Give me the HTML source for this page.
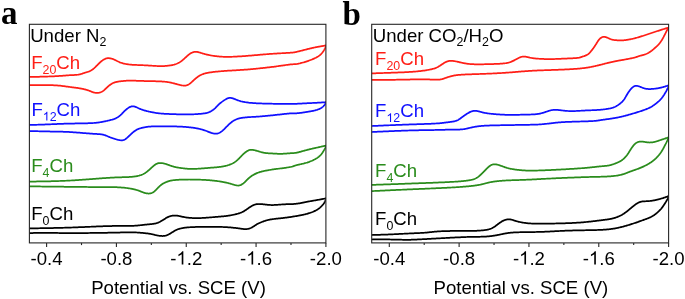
<!DOCTYPE html>
<html><head><meta charset="utf-8"><style>html,body{margin:0;padding:0;background:#fff;width:685px;height:299px;overflow:hidden}svg{display:block;will-change:transform}</style></head>
<body>
<svg width="685" height="299" viewBox="0 0 685 299">
<defs><clipPath id="ca"><rect x="29.40" y="24.30" width="296.50" height="218.60"/></clipPath>
<clipPath id="cb"><rect x="371.70" y="24.30" width="296.90" height="218.60"/></clipPath></defs>
<style>text{font-kerning:none}.t{font-family:"Liberation Sans",sans-serif;font-size:18.60px;fill:#000}.p{font-family:"Liberation Serif",serif;font-weight:bold;font-size:33px;fill:#000}.c{fill:none;stroke-width:1.75;stroke-linejoin:round;stroke-linecap:round}</style>
<rect width="685" height="299" fill="#fff"/>
<text x="1" y="24.3" class="p">a</text>
<text x="342.5" y="24.6" class="p">b</text>
<g clip-path="url(#ca)">
<path class="c" d="M29.00 77.00L29.93 76.98L30.85 76.96L31.78 76.94L32.70 76.91L33.62 76.89L34.55 76.87L35.47 76.85L36.39 76.83L37.31 76.80L38.22 76.78L39.14 76.76L40.05 76.73L40.96 76.71L41.87 76.69L42.77 76.66L43.68 76.64L44.58 76.61L45.47 76.59L46.36 76.56L47.25 76.53L48.14 76.50L49.02 76.48L49.89 76.44L50.77 76.41L51.63 76.38L52.49 76.34L53.35 76.31L54.19 76.27L55.04 76.23L55.87 76.19L56.70 76.14L57.52 76.09L58.34 76.04L59.14 75.99L59.94 75.93L60.73 75.88L61.52 75.82L62.29 75.76L63.07 75.69L63.83 75.63L64.59 75.57L65.34 75.51L66.09 75.45L66.83 75.40L67.57 75.35L68.31 75.30L69.04 75.25L69.76 75.21L70.49 75.18L71.21 75.15L71.92 75.12L72.64 75.09L73.34 75.06L74.04 75.03L74.74 74.99L75.42 74.94L76.10 74.89L76.77 74.83L77.43 74.75L78.08 74.66L78.72 74.55L79.35 74.43L79.96 74.29L80.56 74.13L81.15 73.97L81.73 73.79L82.29 73.62L82.83 73.44L83.36 73.26L83.87 73.08L84.36 72.91L84.83 72.76L85.28 72.61L85.71 72.48L86.13 72.36L86.54 72.24L86.93 72.12L87.33 72.01L87.72 71.89L88.11 71.76L88.50 71.63L88.90 71.48L89.31 71.32L89.71 71.15L90.12 70.96L90.53 70.77L90.93 70.55L91.33 70.33L91.72 70.09L92.10 69.83L92.48 69.57L92.85 69.29L93.22 69.00L93.58 68.69L93.94 68.38L94.30 68.06L94.65 67.73L95.01 67.39L95.37 67.05L95.72 66.70L96.08 66.34L96.44 65.99L96.79 65.63L97.15 65.27L97.50 64.91L97.86 64.55L98.21 64.19L98.56 63.84L98.91 63.50L99.26 63.15L99.61 62.82L99.96 62.49L100.31 62.16L100.67 61.84L101.04 61.53L101.41 61.23L101.79 60.93L102.17 60.65L102.57 60.37L102.96 60.10L103.36 59.85L103.76 59.61L104.15 59.39L104.53 59.18L104.91 58.99L105.28 58.82L105.64 58.67L106.00 58.54L106.35 58.43L106.71 58.34L107.09 58.27L107.47 58.22L107.88 58.20L108.32 58.19L108.77 58.21L109.23 58.24L109.71 58.29L110.18 58.36L110.65 58.44L111.11 58.53L111.56 58.64L111.98 58.75L112.39 58.87L112.78 59.01L113.16 59.15L113.54 59.31L113.92 59.48L114.31 59.66L114.71 59.86L115.14 60.07L115.59 60.30L116.06 60.53L116.56 60.78L117.07 61.04L117.61 61.30L118.16 61.56L118.73 61.81L119.31 62.07L119.91 62.32L120.53 62.56L121.15 62.78L121.79 63.00L122.43 63.19L123.09 63.38L123.75 63.55L124.42 63.71L125.10 63.85L125.78 63.99L126.47 64.11L127.17 64.22L127.87 64.33L128.57 64.42L129.28 64.50L129.98 64.58L130.69 64.65L131.40 64.71L132.12 64.76L132.83 64.81L133.54 64.85L134.26 64.89L134.98 64.92L135.69 64.95L136.41 64.98L137.13 65.00L137.85 65.03L138.57 65.05L139.29 65.08L140.01 65.10L140.73 65.13L141.45 65.16L142.17 65.19L142.89 65.22L143.62 65.25L144.34 65.28L145.06 65.32L145.79 65.36L146.51 65.40L147.23 65.44L147.96 65.48L148.69 65.52L149.41 65.56L150.14 65.61L150.87 65.66L151.60 65.70L152.33 65.75L153.06 65.80L153.78 65.84L154.51 65.89L155.24 65.93L155.96 65.97L156.69 66.00L157.41 66.03L158.13 66.06L158.84 66.08L159.56 66.09L160.26 66.10L160.97 66.10L161.67 66.10L162.37 66.09L163.07 66.07L163.76 66.04L164.45 66.01L165.14 65.97L165.82 65.92L166.50 65.87L167.17 65.81L167.84 65.74L168.51 65.66L169.17 65.58L169.83 65.49L170.49 65.39L171.14 65.28L171.78 65.16L172.42 65.03L173.05 64.89L173.67 64.74L174.29 64.58L174.89 64.40L175.48 64.21L176.06 64.01L176.63 63.79L177.19 63.55L177.73 63.30L178.27 63.04L178.79 62.75L179.31 62.45L179.82 62.14L180.33 61.81L180.83 61.46L181.33 61.10L181.83 60.72L182.33 60.32L182.83 59.91L183.33 59.48L183.83 59.04L184.34 58.59L184.84 58.14L185.33 57.68L185.83 57.23L186.32 56.78L186.80 56.35L187.27 55.92L187.74 55.51L188.20 55.13L188.65 54.76L189.08 54.43L189.51 54.11L189.93 53.83L190.34 53.56L190.75 53.32L191.15 53.09L191.56 52.88L191.96 52.69L192.36 52.52L192.76 52.36L193.17 52.21L193.59 52.08L194.01 51.98L194.44 51.89L194.89 51.83L195.35 51.80L195.82 51.79L196.31 51.81L196.82 51.87L197.34 51.95L197.88 52.06L198.42 52.19L198.98 52.33L199.55 52.49L200.13 52.66L200.71 52.84L201.30 53.02L201.89 53.21L202.48 53.39L203.07 53.56L203.67 53.74L204.27 53.90L204.87 54.07L205.47 54.23L206.08 54.39L206.70 54.54L207.32 54.69L207.96 54.83L208.60 54.97L209.25 55.11L209.92 55.24L210.60 55.37L211.29 55.50L211.99 55.62L212.70 55.74L213.42 55.85L214.15 55.95L214.89 56.06L215.64 56.15L216.39 56.24L217.16 56.33L217.93 56.41L218.71 56.48L219.50 56.55L220.29 56.61L221.09 56.66L221.90 56.71L222.71 56.75L223.54 56.78L224.37 56.81L225.22 56.83L226.08 56.84L226.96 56.85L227.85 56.85L228.76 56.84L229.69 56.83L230.64 56.81L231.61 56.78L232.61 56.75L233.62 56.71L234.67 56.67L235.73 56.61L236.83 56.56L237.95 56.49L239.09 56.42L240.26 56.35L241.44 56.27L242.64 56.19L243.84 56.10L245.06 56.01L246.28 55.91L247.51 55.82L248.74 55.72L249.96 55.62L251.18 55.52L252.39 55.42L253.59 55.32L254.77 55.22L255.94 55.12L257.09 55.02L258.22 54.92L259.32 54.83L260.40 54.74L261.44 54.65L262.45 54.56L263.43 54.48L264.38 54.40L265.30 54.32L266.20 54.25L267.08 54.18L267.94 54.11L268.80 54.05L269.64 53.99L270.48 53.92L271.32 53.86L272.17 53.81L273.02 53.75L273.87 53.69L274.75 53.64L275.64 53.58L276.55 53.53L277.48 53.47L278.44 53.42L279.42 53.36L280.41 53.31L281.40 53.25L282.40 53.20L283.39 53.14L284.37 53.09L285.34 53.03L286.28 52.98L287.20 52.93L288.08 52.88L288.93 52.82L289.73 52.77L290.49 52.72L291.18 52.67L291.82 52.62L292.39 52.57L292.90 52.53L293.37 52.48L293.80 52.42L294.21 52.36L294.61 52.29L295.02 52.21L295.46 52.12L295.93 52.02L296.44 51.90L297.01 51.76L297.62 51.61L298.27 51.45L298.95 51.28L299.66 51.11L300.40 50.92L301.16 50.73L301.93 50.53L302.72 50.33L303.51 50.13L304.30 49.93L305.09 49.73L305.87 49.53L306.64 49.34L307.40 49.15L308.14 48.97L308.88 48.79L309.61 48.62L310.33 48.45L311.04 48.28L311.75 48.12L312.45 47.97L313.15 47.81L313.85 47.66L314.55 47.51L315.24 47.37L315.94 47.23L316.64 47.09L317.35 46.96L318.05 46.83L318.76 46.70L319.47 46.57L320.18 46.45L320.89 46.33L321.60 46.21L322.32 46.09L323.03 45.97L323.75 45.85L324.47 45.73L325.18 45.62L325.90 45.50" stroke="#ff1e16"/>
<path class="c" d="M29.00 85.20L29.91 85.19L30.83 85.18L31.74 85.17L32.66 85.16L33.57 85.15L34.48 85.14L35.39 85.13L36.30 85.13L37.21 85.12L38.12 85.11L39.02 85.11L39.92 85.10L40.82 85.10L41.72 85.10L42.61 85.10L43.50 85.10L44.39 85.10L45.27 85.10L46.15 85.11L47.03 85.11L47.90 85.12L48.77 85.13L49.64 85.15L50.50 85.16L51.35 85.18L52.20 85.21L53.05 85.24L53.89 85.27L54.72 85.31L55.55 85.35L56.37 85.40L57.19 85.46L58.00 85.52L58.81 85.58L59.60 85.66L60.39 85.74L61.18 85.82L61.96 85.91L62.73 86.01L63.49 86.10L64.24 86.20L64.99 86.30L65.73 86.41L66.47 86.51L67.19 86.61L67.91 86.71L68.62 86.81L69.33 86.91L70.02 87.00L70.71 87.09L71.39 87.18L72.06 87.26L72.74 87.35L73.40 87.43L74.07 87.51L74.74 87.59L75.40 87.68L76.07 87.77L76.74 87.86L77.42 87.96L78.10 88.06L78.79 88.17L79.49 88.28L80.20 88.41L80.91 88.54L81.62 88.67L82.33 88.82L83.03 88.97L83.73 89.12L84.41 89.28L85.09 89.45L85.74 89.62L86.38 89.80L86.99 89.98L87.58 90.16L88.14 90.35L88.68 90.54L89.18 90.73L89.67 90.93L90.14 91.12L90.59 91.31L91.04 91.49L91.48 91.67L91.91 91.84L92.35 92.01L92.79 92.17L93.24 92.31L93.70 92.44L94.16 92.56L94.63 92.67L95.11 92.75L95.59 92.82L96.08 92.87L96.58 92.90L97.09 92.90L97.60 92.88L98.12 92.83L98.64 92.76L99.16 92.67L99.68 92.54L100.20 92.39L100.71 92.21L101.22 92.01L101.72 91.78L102.21 91.51L102.68 91.22L103.15 90.90L103.61 90.56L104.06 90.20L104.50 89.82L104.94 89.42L105.38 89.01L105.82 88.59L106.26 88.17L106.70 87.74L107.15 87.32L107.60 86.90L108.06 86.49L108.53 86.08L109.01 85.69L109.50 85.30L109.99 84.93L110.50 84.57L111.01 84.23L111.53 83.90L112.06 83.60L112.60 83.31L113.15 83.04L113.71 82.80L114.27 82.58L114.84 82.38L115.43 82.20L116.02 82.04L116.62 81.90L117.22 81.77L117.84 81.65L118.46 81.55L119.10 81.46L119.74 81.37L120.39 81.29L121.04 81.22L121.71 81.15L122.38 81.08L123.06 81.01L123.74 80.95L124.42 80.89L125.11 80.84L125.80 80.79L126.49 80.74L127.17 80.70L127.85 80.67L128.53 80.64L129.20 80.62L129.86 80.60L130.51 80.60L131.16 80.60L131.80 80.60L132.45 80.61L133.09 80.63L133.75 80.65L134.41 80.68L135.09 80.70L135.79 80.73L136.51 80.76L137.26 80.79L138.03 80.83L138.84 80.86L139.68 80.89L140.57 80.92L141.49 80.94L142.45 80.97L143.43 80.99L144.45 81.02L145.48 81.04L146.54 81.06L147.60 81.08L148.68 81.10L149.76 81.12L150.84 81.14L151.92 81.16L152.99 81.19L154.04 81.21L155.08 81.24L156.10 81.26L157.09 81.29L158.05 81.32L158.98 81.36L159.87 81.39L160.72 81.43L161.53 81.48L162.30 81.52L163.04 81.57L163.75 81.63L164.43 81.69L165.09 81.75L165.73 81.82L166.35 81.89L166.96 81.97L167.55 82.06L168.15 82.15L168.74 82.25L169.33 82.36L169.92 82.47L170.51 82.60L171.11 82.72L171.71 82.86L172.32 83.00L172.93 83.14L173.55 83.30L174.17 83.45L174.80 83.62L175.43 83.78L176.08 83.96L176.73 84.13L177.38 84.32L178.05 84.50L178.71 84.68L179.38 84.85L180.04 85.01L180.70 85.16L181.36 85.30L182.01 85.41L182.64 85.50L183.27 85.57L183.88 85.61L184.47 85.61L185.04 85.58L185.59 85.52L186.13 85.41L186.65 85.28L187.15 85.10L187.65 84.90L188.13 84.67L188.61 84.41L189.08 84.12L189.55 83.80L190.02 83.46L190.49 83.09L190.96 82.71L191.43 82.30L191.91 81.88L192.38 81.45L192.86 81.01L193.34 80.57L193.82 80.12L194.30 79.68L194.79 79.24L195.27 78.80L195.76 78.38L196.26 77.97L196.75 77.58L197.25 77.20L197.75 76.84L198.26 76.50L198.76 76.17L199.28 75.85L199.80 75.55L200.32 75.27L200.85 75.00L201.39 74.75L201.93 74.51L202.48 74.29L203.04 74.08L203.60 73.89L204.17 73.70L204.76 73.53L205.35 73.37L205.96 73.22L206.57 73.08L207.20 72.95L207.84 72.82L208.49 72.70L209.16 72.59L209.84 72.48L210.54 72.37L211.25 72.27L211.97 72.17L212.70 72.08L213.43 71.99L214.17 71.90L214.92 71.81L215.67 71.73L216.41 71.66L217.16 71.58L217.90 71.51L218.63 71.44L219.36 71.37L220.08 71.31L220.78 71.25L221.48 71.19L222.17 71.14L222.85 71.08L223.53 71.03L224.22 70.98L224.90 70.93L225.59 70.88L226.29 70.83L226.99 70.79L227.71 70.74L228.45 70.69L229.20 70.65L229.97 70.60L230.77 70.55L231.58 70.51L232.42 70.46L233.27 70.41L234.14 70.36L235.02 70.31L235.92 70.26L236.83 70.20L237.75 70.15L238.67 70.09L239.61 70.03L240.55 69.98L241.50 69.91L242.45 69.85L243.40 69.79L244.35 69.72L245.30 69.65L246.24 69.58L247.19 69.51L248.12 69.43L249.06 69.36L249.98 69.28L250.91 69.20L251.83 69.11L252.74 69.03L253.65 68.95L254.55 68.86L255.45 68.77L256.35 68.68L257.23 68.59L258.12 68.50L259.00 68.41L259.87 68.32L260.74 68.23L261.60 68.14L262.45 68.05L263.30 67.96L264.15 67.87L264.99 67.78L265.84 67.68L266.68 67.59L267.53 67.49L268.38 67.40L269.23 67.30L270.09 67.20L270.95 67.09L271.83 66.98L272.71 66.87L273.61 66.76L274.51 66.64L275.44 66.51L276.37 66.39L277.33 66.25L278.30 66.12L279.28 65.98L280.26 65.83L281.25 65.69L282.24 65.55L283.22 65.41L284.18 65.27L285.13 65.13L286.06 65.00L286.96 64.88L287.83 64.76L288.67 64.66L289.46 64.56L290.21 64.47L290.91 64.40L291.56 64.34L292.14 64.30L292.67 64.27L293.15 64.25L293.59 64.24L294.01 64.23L294.41 64.22L294.82 64.20L295.24 64.18L295.68 64.14L296.17 64.08L296.70 64.00L297.28 63.90L297.89 63.78L298.54 63.64L299.22 63.48L299.93 63.32L300.66 63.13L301.41 62.94L302.18 62.73L302.96 62.51L303.75 62.29L304.54 62.05L305.33 61.81L306.11 61.56L306.89 61.31L307.66 61.06L308.42 60.80L309.17 60.54L309.91 60.27L310.64 60.00L311.35 59.73L312.05 59.45L312.73 59.17L313.39 58.89L314.04 58.60L314.66 58.31L315.27 58.02L315.85 57.73L316.41 57.43L316.95 57.13L317.47 56.83L317.97 56.52L318.44 56.21L318.90 55.89L319.34 55.56L319.76 55.23L320.17 54.88L320.57 54.52L320.95 54.15L321.32 53.77L321.67 53.38L322.02 52.98L322.35 52.57L322.66 52.16L322.97 51.75L323.25 51.33L323.53 50.92L323.79 50.52L324.03 50.12L324.26 49.73L324.47 49.35L324.66 48.98L324.84 48.62L325.00 48.27L325.15 47.94L325.29 47.61L325.40 47.29L325.51 46.97L325.60 46.67L325.68 46.37L325.76 46.08L325.83 45.79L325.90 45.50" stroke="#ff1e16"/>
<path class="c" d="M29.00 125.00L30.05 124.97L31.09 124.94L32.14 124.91L33.18 124.87L34.22 124.84L35.26 124.81L36.30 124.78L37.33 124.75L38.36 124.71L39.38 124.68L40.40 124.65L41.41 124.61L42.42 124.58L43.42 124.55L44.42 124.51L45.40 124.48L46.38 124.44L47.35 124.40L48.31 124.37L49.26 124.33L50.21 124.29L51.14 124.25L52.06 124.21L52.98 124.17L53.89 124.14L54.80 124.10L55.71 124.06L56.63 124.02L57.54 123.98L58.46 123.94L59.39 123.90L60.33 123.87L61.28 123.83L62.24 123.79L63.22 123.76L64.21 123.73L65.22 123.70L66.26 123.67L67.32 123.64L68.40 123.61L69.50 123.59L70.64 123.57L71.80 123.55L72.97 123.53L74.16 123.51L75.37 123.49L76.58 123.47L77.80 123.46L79.02 123.44L80.24 123.42L81.46 123.40L82.66 123.38L83.86 123.35L85.04 123.33L86.20 123.30L87.34 123.27L88.46 123.24L89.54 123.20L90.60 123.16L91.62 123.11L92.60 123.06L93.54 123.00L94.43 122.94L95.27 122.88L96.07 122.81L96.82 122.73L97.53 122.64L98.21 122.56L98.87 122.46L99.50 122.36L100.11 122.26L100.71 122.15L101.31 122.04L101.91 121.92L102.52 121.80L103.14 121.68L103.77 121.55L104.43 121.41L105.11 121.28L105.81 121.13L106.52 120.99L107.25 120.84L107.99 120.68L108.73 120.51L109.47 120.34L110.20 120.16L110.94 119.97L111.66 119.77L112.37 119.57L113.06 119.35L113.73 119.12L114.38 118.88L115.01 118.63L115.60 118.37L116.17 118.10L116.71 117.81L117.24 117.52L117.74 117.21L118.22 116.90L118.69 116.57L119.14 116.23L119.58 115.88L120.01 115.53L120.43 115.16L120.83 114.78L121.24 114.40L121.63 114.01L122.03 113.61L122.41 113.21L122.80 112.81L123.19 112.41L123.58 112.00L123.97 111.61L124.36 111.21L124.75 110.83L125.16 110.45L125.56 110.08L125.98 109.72L126.40 109.37L126.82 109.03L127.24 108.71L127.67 108.40L128.09 108.11L128.52 107.83L128.94 107.57L129.36 107.33L129.78 107.11L130.19 106.90L130.61 106.73L131.02 106.57L131.44 106.45L131.86 106.35L132.28 106.29L132.72 106.27L133.16 106.28L133.62 106.33L134.08 106.42L134.56 106.55L135.05 106.70L135.54 106.88L136.04 107.08L136.54 107.30L137.04 107.53L137.54 107.76L138.05 107.99L138.54 108.23L139.04 108.45L139.52 108.67L140.01 108.88L140.50 109.08L141.00 109.28L141.50 109.47L142.01 109.65L142.54 109.83L143.08 110.01L143.64 110.19L144.23 110.36L144.84 110.54L145.47 110.71L146.13 110.89L146.81 111.06L147.51 111.23L148.22 111.40L148.94 111.57L149.67 111.73L150.41 111.89L151.14 112.04L151.88 112.19L152.61 112.34L153.34 112.47L154.06 112.60L154.76 112.73L155.44 112.84L156.11 112.95L156.77 113.04L157.42 113.13L158.06 113.22L158.71 113.30L159.35 113.37L160.01 113.44L160.67 113.50L161.35 113.56L162.05 113.61L162.77 113.66L163.52 113.71L164.29 113.76L165.11 113.81L165.96 113.85L166.84 113.90L167.76 113.94L168.70 113.98L169.67 114.02L170.66 114.06L171.67 114.10L172.69 114.13L173.72 114.17L174.77 114.20L175.81 114.23L176.86 114.26L177.90 114.29L178.94 114.31L179.97 114.33L180.99 114.35L181.99 114.37L182.97 114.38L183.93 114.39L184.86 114.40L185.77 114.40L186.65 114.41L187.50 114.40L188.33 114.40L189.13 114.39L189.92 114.38L190.69 114.37L191.44 114.35L192.18 114.33L192.90 114.31L193.62 114.28L194.32 114.25L195.02 114.22L195.72 114.18L196.41 114.14L197.10 114.09L197.79 114.05L198.48 113.99L199.17 113.94L199.84 113.88L200.51 113.82L201.16 113.76L201.80 113.70L202.42 113.63L203.01 113.56L203.59 113.49L204.13 113.42L204.65 113.35L205.14 113.28L205.59 113.20L206.02 113.13L206.42 113.05L206.81 112.96L207.18 112.86L207.55 112.76L207.91 112.64L208.28 112.51L208.65 112.36L209.03 112.20L209.41 112.03L209.80 111.85L210.19 111.65L210.58 111.44L210.97 111.23L211.36 111.01L211.74 110.78L212.11 110.54L212.48 110.30L212.85 110.05L213.21 109.79L213.56 109.52L213.92 109.24L214.27 108.95L214.61 108.65L214.96 108.34L215.30 108.01L215.64 107.68L215.98 107.33L216.32 106.97L216.66 106.62L217.00 106.26L217.33 105.90L217.67 105.54L218.01 105.19L218.35 104.85L218.69 104.51L219.04 104.19L219.38 103.88L219.73 103.57L220.08 103.28L220.43 102.99L220.78 102.70L221.14 102.43L221.49 102.15L221.86 101.89L222.22 101.62L222.59 101.36L222.96 101.11L223.33 100.85L223.70 100.60L224.07 100.36L224.45 100.12L224.82 99.88L225.19 99.64L225.56 99.41L225.93 99.19L226.31 98.97L226.68 98.77L227.06 98.58L227.44 98.42L227.83 98.27L228.23 98.15L228.63 98.05L229.04 97.98L229.45 97.94L229.86 97.92L230.27 97.92L230.69 97.94L231.09 97.98L231.49 98.04L231.88 98.12L232.26 98.21L232.63 98.31L233.00 98.42L233.37 98.55L233.74 98.69L234.13 98.84L234.53 99.01L234.94 99.18L235.38 99.36L235.84 99.54L236.32 99.74L236.82 99.93L237.35 100.14L237.90 100.34L238.48 100.54L239.08 100.74L239.71 100.94L240.36 101.13L241.04 101.32L241.75 101.49L242.48 101.66L243.24 101.82L244.02 101.97L244.82 102.11L245.63 102.24L246.45 102.36L247.28 102.47L248.11 102.58L248.94 102.68L249.77 102.76L250.58 102.85L251.39 102.92L252.17 102.99L252.94 103.05L253.67 103.11L254.38 103.16L255.06 103.20L255.70 103.24L256.32 103.28L256.91 103.31L257.48 103.34L258.03 103.37L258.58 103.39L259.13 103.41L259.69 103.43L260.25 103.45L260.83 103.47L261.43 103.48L262.06 103.50L262.72 103.52L263.42 103.54L264.14 103.56L264.89 103.58L265.67 103.60L266.47 103.62L267.30 103.64L268.15 103.66L269.01 103.68L269.90 103.70L270.81 103.72L271.73 103.73L272.67 103.75L273.62 103.76L274.59 103.78L275.56 103.79L276.54 103.80L277.53 103.80L278.52 103.81L279.52 103.81L280.51 103.82L281.49 103.82L282.47 103.82L283.43 103.81L284.38 103.81L285.30 103.81L286.20 103.81L287.07 103.80L287.91 103.80L288.71 103.80L289.47 103.80L290.19 103.80L290.86 103.80L291.49 103.80L292.06 103.80L292.57 103.80L293.04 103.81L293.47 103.81L293.88 103.82L294.27 103.82L294.67 103.82L295.08 103.82L295.51 103.81L295.98 103.80L296.50 103.78L297.06 103.76L297.66 103.74L298.30 103.71L298.97 103.68L299.66 103.64L300.38 103.61L301.12 103.57L301.87 103.52L302.64 103.48L303.41 103.44L304.18 103.40L304.95 103.36L305.71 103.32L306.47 103.28L307.21 103.24L307.94 103.20L308.66 103.17L309.37 103.13L310.08 103.10L310.78 103.06L311.47 103.03L312.16 103.00L312.84 102.96L313.52 102.93L314.20 102.90L314.88 102.86L315.56 102.83L316.24 102.79L316.92 102.76L317.61 102.72L318.29 102.68L318.98 102.64L319.67 102.60L320.36 102.55L321.05 102.51L321.74 102.47L322.43 102.42L323.12 102.38L323.82 102.33L324.51 102.29L325.21 102.25L325.90 102.20" stroke="#1010ff"/>
<path class="c" d="M29.00 131.00L30.06 131.03L31.11 131.06L32.17 131.09L33.22 131.12L34.27 131.14L35.32 131.17L36.36 131.20L37.40 131.23L38.44 131.25L39.47 131.28L40.50 131.31L41.53 131.33L42.54 131.35L43.55 131.38L44.56 131.40L45.55 131.42L46.54 131.44L47.52 131.46L48.49 131.48L49.45 131.49L50.40 131.51L51.35 131.52L52.28 131.53L53.21 131.54L54.14 131.56L55.06 131.57L55.98 131.58L56.91 131.60L57.84 131.61L58.77 131.63L59.71 131.65L60.67 131.67L61.63 131.70L62.60 131.72L63.59 131.76L64.60 131.79L65.63 131.84L66.68 131.88L67.75 131.93L68.84 131.99L69.96 132.06L71.11 132.12L72.27 132.20L73.45 132.28L74.65 132.36L75.86 132.45L77.07 132.54L78.29 132.63L79.51 132.72L80.73 132.82L81.94 132.91L83.15 133.01L84.34 133.11L85.52 133.20L86.69 133.29L87.83 133.38L88.94 133.47L90.03 133.55L91.09 133.63L92.11 133.71L93.10 133.78L94.04 133.84L94.95 133.90L95.80 133.95L96.61 133.99L97.39 134.04L98.12 134.08L98.82 134.13L99.50 134.17L100.14 134.23L100.77 134.29L101.37 134.37L101.96 134.45L102.54 134.55L103.11 134.67L103.68 134.81L104.24 134.97L104.81 135.15L105.37 135.35L105.93 135.56L106.48 135.78L107.02 136.01L107.56 136.24L108.08 136.47L108.59 136.70L109.08 136.91L109.55 137.12L110.01 137.30L110.44 137.47L110.86 137.62L111.26 137.76L111.65 137.89L112.03 138.01L112.41 138.12L112.79 138.24L113.16 138.36L113.55 138.48L113.94 138.61L114.34 138.74L114.74 138.88L115.14 139.01L115.55 139.14L115.96 139.27L116.36 139.40L116.77 139.52L117.17 139.63L117.56 139.73L117.96 139.83L118.36 139.92L118.76 140.00L119.16 140.07L119.56 140.14L119.97 140.20L120.38 140.25L120.79 140.29L121.20 140.32L121.62 140.33L122.03 140.32L122.45 140.29L122.85 140.23L123.26 140.14L123.65 140.02L124.04 139.87L124.42 139.69L124.80 139.48L125.18 139.25L125.55 139.00L125.91 138.73L126.27 138.45L126.64 138.15L127.00 137.85L127.35 137.54L127.71 137.23L128.07 136.91L128.42 136.59L128.77 136.26L129.12 135.93L129.47 135.60L129.82 135.27L130.17 134.94L130.51 134.61L130.85 134.28L131.19 133.96L131.54 133.63L131.88 133.31L132.23 133.00L132.58 132.69L132.94 132.38L133.30 132.09L133.66 131.79L134.03 131.50L134.41 131.23L134.78 130.96L135.16 130.70L135.54 130.45L135.92 130.21L136.29 129.99L136.66 129.78L137.02 129.58L137.38 129.40L137.74 129.23L138.11 129.07L138.48 128.92L138.86 128.78L139.26 128.64L139.68 128.50L140.12 128.36L140.60 128.22L141.09 128.08L141.62 127.94L142.16 127.80L142.74 127.66L143.34 127.52L143.97 127.39L144.62 127.27L145.29 127.15L145.99 127.03L146.71 126.93L147.46 126.83L148.23 126.74L149.03 126.66L149.84 126.59L150.68 126.53L151.53 126.48L152.41 126.43L153.30 126.39L154.21 126.36L155.13 126.33L156.07 126.31L157.02 126.30L157.99 126.28L158.97 126.28L159.95 126.28L160.95 126.28L161.96 126.28L162.97 126.28L163.99 126.29L165.01 126.30L166.04 126.31L167.08 126.32L168.11 126.33L169.15 126.35L170.19 126.36L171.22 126.38L172.25 126.40L173.28 126.42L174.31 126.44L175.33 126.47L176.34 126.49L177.34 126.53L178.34 126.56L179.32 126.60L180.29 126.64L181.25 126.68L182.20 126.73L183.13 126.78L184.04 126.84L184.94 126.90L185.82 126.96L186.68 127.03L187.52 127.10L188.35 127.18L189.16 127.26L189.96 127.34L190.74 127.43L191.51 127.53L192.26 127.63L193.00 127.73L193.73 127.84L194.45 127.95L195.15 128.07L195.85 128.19L196.54 128.31L197.22 128.44L197.89 128.58L198.56 128.72L199.21 128.86L199.87 129.01L200.52 129.17L201.17 129.34L201.82 129.51L202.47 129.70L203.13 129.89L203.78 130.10L204.44 130.31L205.11 130.54L205.78 130.78L206.46 131.04L207.15 131.30L207.85 131.57L208.55 131.85L209.25 132.12L209.95 132.38L210.65 132.63L211.35 132.87L212.05 133.08L212.73 133.28L213.42 133.44L214.09 133.56L214.75 133.65L215.39 133.70L216.03 133.70L216.65 133.64L217.25 133.54L217.84 133.40L218.41 133.21L218.97 132.99L219.52 132.73L220.06 132.44L220.59 132.12L221.10 131.77L221.61 131.40L222.11 131.01L222.60 130.60L223.09 130.17L223.57 129.74L224.04 129.29L224.51 128.84L224.97 128.37L225.43 127.91L225.89 127.44L226.35 126.96L226.81 126.49L227.26 126.03L227.72 125.56L228.18 125.10L228.64 124.65L229.11 124.21L229.58 123.79L230.05 123.37L230.53 122.96L231.01 122.57L231.49 122.19L231.98 121.82L232.47 121.47L232.97 121.13L233.47 120.81L233.98 120.51L234.49 120.22L235.00 119.94L235.52 119.69L236.05 119.45L236.59 119.22L237.13 119.02L237.70 118.82L238.28 118.64L238.88 118.47L239.49 118.32L240.13 118.17L240.80 118.04L241.49 117.91L242.21 117.80L242.96 117.69L243.73 117.60L244.53 117.51L245.34 117.42L246.17 117.35L247.01 117.28L247.85 117.21L248.70 117.15L249.54 117.10L250.37 117.05L251.19 117.00L251.99 116.96L252.77 116.92L253.53 116.88L254.26 116.84L254.95 116.80L255.61 116.77L256.23 116.73L256.83 116.69L257.41 116.66L257.97 116.62L258.53 116.58L259.08 116.54L259.64 116.50L260.21 116.45L260.79 116.40L261.39 116.35L262.02 116.30L262.69 116.24L263.38 116.18L264.11 116.11L264.87 116.04L265.65 115.97L266.46 115.89L267.29 115.81L268.15 115.72L269.02 115.64L269.92 115.55L270.83 115.46L271.76 115.36L272.71 115.26L273.67 115.16L274.64 115.06L275.62 114.95L276.61 114.84L277.61 114.73L278.61 114.62L279.61 114.51L280.61 114.40L281.60 114.28L282.58 114.17L283.54 114.07L284.49 113.96L285.42 113.86L286.32 113.77L287.19 113.68L288.03 113.60L288.83 113.52L289.59 113.46L290.31 113.40L290.98 113.36L291.60 113.32L292.17 113.30L292.67 113.29L293.14 113.29L293.57 113.29L293.98 113.30L294.38 113.31L294.78 113.31L295.20 113.32L295.65 113.31L296.13 113.29L296.66 113.27L297.23 113.22L297.83 113.17L298.48 113.11L299.15 113.04L299.85 112.96L300.58 112.87L301.32 112.77L302.09 112.67L302.86 112.56L303.64 112.45L304.43 112.34L305.22 112.22L306.01 112.10L306.79 111.98L307.57 111.85L308.33 111.73L309.09 111.60L309.83 111.47L310.57 111.34L311.29 111.20L312.00 111.07L312.69 110.92L313.36 110.78L314.02 110.63L314.66 110.48L315.28 110.32L315.87 110.16L316.45 110.00L317.00 109.83L317.53 109.65L318.04 109.47L318.53 109.28L319.01 109.09L319.47 108.88L319.91 108.67L320.34 108.44L320.76 108.21L321.16 107.96L321.56 107.70L321.94 107.43L322.31 107.16L322.66 106.88L323.00 106.59L323.32 106.30L323.62 106.00L323.91 105.71L324.17 105.42L324.42 105.13L324.64 104.84L324.84 104.56L325.02 104.28L325.19 104.01L325.33 103.74L325.46 103.48L325.57 103.21L325.66 102.96L325.75 102.70L325.82 102.45L325.90 102.20" stroke="#1010ff"/>
<path class="c" d="M29.00 181.60L30.34 181.58L31.68 181.57L33.02 181.55L34.36 181.53L35.70 181.51L37.04 181.49L38.38 181.47L39.71 181.45L41.04 181.43L42.38 181.41L43.71 181.39L45.03 181.37L46.36 181.34L47.68 181.31L49.00 181.29L50.32 181.26L51.63 181.23L52.95 181.19L54.25 181.16L55.56 181.12L56.85 181.09L58.15 181.04L59.44 181.00L60.73 180.96L62.01 180.91L63.28 180.86L64.56 180.81L65.82 180.75L67.08 180.69L68.34 180.63L69.59 180.57L70.83 180.50L72.06 180.43L73.29 180.36L74.52 180.29L75.74 180.21L76.95 180.13L78.15 180.05L79.34 179.97L80.53 179.88L81.72 179.80L82.89 179.71L84.06 179.63L85.22 179.54L86.37 179.45L87.51 179.36L88.65 179.27L89.78 179.19L90.90 179.10L92.01 179.01L93.11 178.93L94.21 178.84L95.29 178.76L96.37 178.67L97.44 178.59L98.49 178.51L99.54 178.43L100.58 178.36L101.62 178.28L102.64 178.21L103.65 178.14L104.65 178.08L105.64 178.01L106.62 177.95L107.59 177.89L108.55 177.83L109.50 177.78L110.44 177.72L111.36 177.67L112.28 177.62L113.18 177.58L114.07 177.54L114.95 177.49L115.82 177.46L116.68 177.42L117.52 177.39L118.35 177.36L119.17 177.33L119.97 177.30L120.76 177.28L121.54 177.26L122.31 177.24L123.06 177.22L123.81 177.20L124.54 177.18L125.27 177.16L125.98 177.14L126.69 177.11L127.39 177.09L128.09 177.06L128.78 177.03L129.46 176.99L130.14 176.95L130.82 176.90L131.49 176.85L132.16 176.79L132.82 176.72L133.49 176.64L134.15 176.56L134.80 176.47L135.45 176.37L136.09 176.27L136.72 176.15L137.35 176.03L137.96 175.89L138.56 175.75L139.16 175.60L139.73 175.44L140.30 175.27L140.85 175.09L141.38 174.90L141.90 174.69L142.41 174.48L142.90 174.26L143.39 174.02L143.86 173.77L144.33 173.51L144.78 173.24L145.24 172.95L145.69 172.64L146.14 172.33L146.59 172.00L147.04 171.65L147.49 171.29L147.94 170.91L148.40 170.52L148.85 170.13L149.31 169.73L149.76 169.32L150.21 168.91L150.65 168.51L151.09 168.10L151.52 167.71L151.95 167.32L152.37 166.94L152.78 166.58L153.18 166.23L153.57 165.90L153.95 165.59L154.33 165.29L154.69 165.02L155.06 164.76L155.42 164.52L155.77 164.29L156.13 164.08L156.49 163.90L156.85 163.72L157.21 163.57L157.57 163.43L157.95 163.32L158.33 163.22L158.71 163.13L159.11 163.07L159.52 163.03L159.94 163.00L160.37 163.00L160.82 163.01L161.28 163.04L161.75 163.09L162.24 163.16L162.74 163.25L163.24 163.35L163.76 163.46L164.28 163.59L164.80 163.73L165.33 163.87L165.86 164.03L166.40 164.20L166.93 164.38L167.46 164.56L167.99 164.74L168.52 164.93L169.06 165.13L169.60 165.32L170.14 165.51L170.68 165.71L171.24 165.90L171.80 166.09L172.36 166.27L172.94 166.45L173.52 166.62L174.11 166.78L174.72 166.93L175.33 167.07L175.96 167.21L176.58 167.33L177.22 167.45L177.85 167.56L178.49 167.66L179.12 167.76L179.75 167.85L180.38 167.94L180.99 168.02L181.60 168.10L182.20 168.18L182.79 168.25L183.36 168.32L183.91 168.39L184.46 168.45L184.99 168.51L185.52 168.57L186.04 168.63L186.56 168.68L187.09 168.73L187.61 168.77L188.15 168.81L188.69 168.84L189.24 168.87L189.81 168.89L190.39 168.91L190.99 168.92L191.61 168.92L192.24 168.92L192.88 168.92L193.53 168.90L194.20 168.89L194.86 168.87L195.54 168.84L196.22 168.81L196.89 168.78L197.57 168.75L198.25 168.71L198.93 168.67L199.60 168.63L200.27 168.58L200.93 168.54L201.58 168.49L202.23 168.44L202.87 168.39L203.52 168.34L204.16 168.28L204.80 168.23L205.45 168.18L206.09 168.12L206.74 168.07L207.40 168.01L208.06 167.96L208.72 167.90L209.40 167.85L210.08 167.79L210.77 167.74L211.47 167.69L212.18 167.63L212.89 167.58L213.61 167.52L214.34 167.46L215.06 167.40L215.79 167.34L216.52 167.27L217.25 167.20L217.98 167.13L218.70 167.05L219.42 166.96L220.14 166.87L220.85 166.78L221.55 166.67L222.24 166.56L222.93 166.44L223.60 166.31L224.27 166.18L224.93 166.04L225.57 165.89L226.20 165.73L226.83 165.57L227.44 165.39L228.04 165.22L228.63 165.03L229.20 164.83L229.76 164.63L230.31 164.42L230.85 164.21L231.37 163.98L231.88 163.75L232.38 163.51L232.87 163.26L233.34 163.00L233.81 162.72L234.27 162.44L234.73 162.14L235.18 161.83L235.62 161.51L236.07 161.16L236.51 160.81L236.95 160.43L237.39 160.04L237.84 159.63L238.28 159.20L238.72 158.77L239.16 158.33L239.60 157.88L240.04 157.43L240.47 156.98L240.90 156.53L241.32 156.09L241.74 155.66L242.15 155.24L242.55 154.83L242.95 154.45L243.33 154.08L243.71 153.73L244.08 153.41L244.44 153.10L244.80 152.80L245.15 152.53L245.50 152.26L245.85 152.01L246.20 151.76L246.55 151.53L246.89 151.30L247.25 151.08L247.60 150.87L247.96 150.67L248.33 150.48L248.71 150.31L249.09 150.16L249.49 150.03L249.89 149.92L250.31 149.84L250.75 149.79L251.20 149.76L251.67 149.77L252.14 149.80L252.64 149.85L253.14 149.93L253.65 150.02L254.17 150.13L254.70 150.26L255.24 150.39L255.79 150.54L256.34 150.69L256.89 150.86L257.45 151.02L258.01 151.18L258.57 151.35L259.14 151.52L259.70 151.68L260.26 151.85L260.83 152.00L261.39 152.16L261.95 152.30L262.50 152.44L263.06 152.57L263.60 152.68L264.14 152.79L264.68 152.88L265.21 152.96L265.73 153.03L266.26 153.09L266.78 153.14L267.31 153.18L267.84 153.22L268.37 153.26L268.91 153.29L269.46 153.32L270.02 153.35L270.58 153.38L271.17 153.41L271.76 153.45L272.37 153.48L272.99 153.52L273.63 153.56L274.27 153.60L274.93 153.64L275.60 153.68L276.28 153.71L276.96 153.74L277.66 153.77L278.37 153.79L279.08 153.80L279.81 153.81L280.54 153.81L281.28 153.81L282.02 153.79L282.77 153.76L283.52 153.73L284.27 153.69L285.01 153.64L285.75 153.59L286.48 153.54L287.19 153.48L287.89 153.43L288.56 153.37L289.22 153.32L289.85 153.26L290.45 153.22L291.02 153.17L291.56 153.13L292.06 153.10L292.52 153.08L292.94 153.06L293.35 153.05L293.73 153.03L294.11 153.01L294.49 152.99L294.88 152.95L295.28 152.91L295.71 152.85L296.17 152.77L296.67 152.67L297.21 152.56L297.77 152.42L298.37 152.28L298.99 152.12L299.63 151.95L300.29 151.78L300.97 151.59L301.66 151.40L302.36 151.20L303.07 151.01L303.78 150.81L304.49 150.61L305.19 150.42L305.89 150.23L306.59 150.04L307.27 149.87L307.94 149.69L308.61 149.53L309.27 149.37L309.93 149.21L310.57 149.05L311.22 148.90L311.86 148.75L312.49 148.61L313.13 148.46L313.76 148.32L314.39 148.18L315.02 148.04L315.66 147.90L316.29 147.76L316.92 147.62L317.56 147.48L318.19 147.33L318.83 147.19L319.47 147.05L320.11 146.90L320.75 146.76L321.39 146.62L322.04 146.47L322.68 146.33L323.32 146.18L323.97 146.04L324.61 145.89L325.26 145.75L325.90 145.60" stroke="#2a8c1c"/>
<path class="c" d="M29.00 186.40L30.21 186.41L31.43 186.42L32.64 186.43L33.86 186.44L35.07 186.45L36.28 186.46L37.49 186.47L38.70 186.48L39.91 186.49L41.11 186.50L42.32 186.51L43.52 186.52L44.71 186.54L45.91 186.55L47.10 186.56L48.29 186.57L49.48 186.58L50.66 186.59L51.84 186.61L53.02 186.62L54.19 186.63L55.36 186.64L56.52 186.66L57.68 186.67L58.83 186.69L59.98 186.70L61.13 186.71L62.26 186.73L63.40 186.74L64.53 186.76L65.66 186.77L66.79 186.79L67.91 186.81L69.04 186.82L70.16 186.84L71.29 186.85L72.42 186.86L73.55 186.88L74.68 186.89L75.82 186.91L76.96 186.92L78.11 186.93L79.26 186.94L80.42 186.95L81.59 186.96L82.76 186.97L83.95 186.98L85.14 186.99L86.34 186.99L87.56 187.00L88.78 187.00L90.02 187.00L91.27 187.00L92.52 187.00L93.79 187.00L95.05 187.00L96.33 187.00L97.60 187.00L98.88 187.00L100.15 187.00L101.42 187.01L102.68 187.01L103.94 187.01L105.19 187.02L106.43 187.03L107.65 187.04L108.87 187.05L110.06 187.07L111.24 187.09L112.40 187.11L113.54 187.14L114.65 187.17L115.74 187.20L116.80 187.24L117.84 187.29L118.84 187.34L119.82 187.39L120.76 187.45L121.66 187.51L122.54 187.58L123.38 187.66L124.20 187.74L124.99 187.82L125.75 187.91L126.50 188.00L127.21 188.09L127.91 188.19L128.59 188.30L129.25 188.40L129.89 188.51L130.52 188.62L131.13 188.73L131.74 188.85L132.33 188.97L132.91 189.09L133.48 189.21L134.04 189.33L134.58 189.45L135.12 189.58L135.63 189.71L136.14 189.84L136.62 189.98L137.09 190.11L137.54 190.25L137.97 190.39L138.39 190.53L138.79 190.68L139.17 190.83L139.54 190.97L139.91 191.12L140.27 191.27L140.63 191.42L140.99 191.57L141.35 191.72L141.72 191.87L142.10 192.02L142.48 192.16L142.86 192.30L143.25 192.44L143.64 192.57L144.03 192.70L144.42 192.82L144.80 192.93L145.19 193.03L145.57 193.13L145.96 193.22L146.34 193.29L146.72 193.36L147.11 193.42L147.50 193.46L147.89 193.49L148.28 193.51L148.67 193.52L149.07 193.51L149.47 193.49L149.86 193.45L150.26 193.39L150.65 193.31L151.04 193.21L151.42 193.09L151.80 192.95L152.18 192.79L152.54 192.60L152.91 192.40L153.27 192.18L153.62 191.94L153.97 191.69L154.32 191.42L154.66 191.13L155.00 190.83L155.34 190.52L155.68 190.20L156.01 189.87L156.34 189.54L156.67 189.20L157.00 188.85L157.33 188.51L157.66 188.16L157.98 187.82L158.31 187.48L158.64 187.15L158.96 186.83L159.29 186.51L159.62 186.19L159.95 185.89L160.29 185.59L160.63 185.31L160.97 185.03L161.32 184.76L161.67 184.50L162.03 184.26L162.39 184.02L162.76 183.79L163.13 183.57L163.50 183.37L163.87 183.17L164.24 182.97L164.61 182.79L164.98 182.61L165.35 182.44L165.72 182.28L166.08 182.13L166.45 181.98L166.82 181.83L167.19 181.69L167.56 181.56L167.93 181.42L168.30 181.30L168.69 181.17L169.08 181.06L169.48 180.94L169.90 180.83L170.35 180.72L170.82 180.62L171.32 180.52L171.85 180.43L172.43 180.34L173.04 180.25L173.70 180.17L174.39 180.10L175.12 180.03L175.89 179.96L176.70 179.90L177.53 179.84L178.39 179.79L179.28 179.74L180.19 179.70L181.12 179.66L182.07 179.63L183.04 179.59L184.03 179.57L185.02 179.55L186.03 179.53L187.04 179.52L188.06 179.51L189.08 179.50L190.10 179.50L191.12 179.50L192.14 179.51L193.16 179.52L194.17 179.54L195.18 179.56L196.18 179.58L197.18 179.60L198.17 179.63L199.16 179.67L200.14 179.70L201.10 179.75L202.06 179.79L203.01 179.84L203.95 179.88L204.88 179.94L205.79 179.99L206.70 180.05L207.59 180.11L208.46 180.18L209.32 180.24L210.16 180.31L210.99 180.39L211.81 180.46L212.61 180.54L213.39 180.62L214.16 180.70L214.92 180.78L215.67 180.87L216.40 180.96L217.13 181.06L217.84 181.15L218.55 181.25L219.25 181.35L219.94 181.46L220.62 181.57L221.30 181.68L221.97 181.79L222.63 181.91L223.29 182.03L223.94 182.16L224.60 182.29L225.24 182.42L225.88 182.56L226.52 182.70L227.16 182.84L227.79 183.00L228.41 183.15L229.04 183.32L229.66 183.48L230.28 183.66L230.90 183.84L231.51 184.03L232.12 184.22L232.73 184.41L233.33 184.60L233.93 184.78L234.53 184.95L235.11 185.10L235.69 185.24L236.27 185.35L236.83 185.44L237.38 185.50L237.93 185.52L238.46 185.51L238.98 185.46L239.49 185.36L239.99 185.23L240.47 185.07L240.95 184.87L241.42 184.64L241.88 184.38L242.33 184.10L242.77 183.79L243.21 183.47L243.64 183.12L244.06 182.76L244.48 182.39L244.89 182.00L245.30 181.61L245.70 181.21L246.11 180.80L246.51 180.39L246.92 179.98L247.33 179.57L247.75 179.16L248.17 178.75L248.59 178.36L249.02 177.97L249.47 177.59L249.92 177.22L250.38 176.86L250.84 176.51L251.32 176.17L251.80 175.85L252.28 175.53L252.78 175.22L253.27 174.93L253.78 174.64L254.28 174.37L254.79 174.10L255.31 173.85L255.83 173.60L256.35 173.37L256.88 173.14L257.41 172.93L257.95 172.72L258.51 172.52L259.07 172.33L259.64 172.14L260.23 171.96L260.83 171.79L261.45 171.62L262.08 171.45L262.73 171.29L263.40 171.14L264.09 170.98L264.79 170.84L265.51 170.69L266.25 170.55L267.01 170.41L267.78 170.27L268.57 170.13L269.37 170.00L270.19 169.87L271.02 169.74L271.87 169.61L272.73 169.49L273.61 169.36L274.50 169.24L275.40 169.11L276.31 168.99L277.24 168.87L278.17 168.75L279.11 168.62L280.06 168.50L281.00 168.38L281.94 168.26L282.88 168.13L283.80 168.01L284.70 167.89L285.59 167.76L286.45 167.64L287.29 167.51L288.10 167.38L288.87 167.26L289.61 167.13L290.30 167.00L290.95 166.87L291.55 166.73L292.10 166.60L292.59 166.47L293.04 166.33L293.45 166.19L293.84 166.06L294.21 165.92L294.58 165.78L294.96 165.64L295.36 165.50L295.78 165.37L296.25 165.23L296.75 165.09L297.30 164.96L297.88 164.82L298.49 164.68L299.14 164.54L299.80 164.39L300.49 164.24L301.20 164.09L301.93 163.93L302.66 163.76L303.41 163.58L304.16 163.40L304.91 163.20L305.65 163.00L306.40 162.78L307.13 162.56L307.86 162.32L308.58 162.07L309.28 161.82L309.98 161.55L310.66 161.28L311.34 161.00L311.99 160.72L312.64 160.42L313.26 160.13L313.87 159.82L314.47 159.52L315.04 159.21L315.59 158.90L316.13 158.58L316.64 158.27L317.14 157.95L317.61 157.63L318.07 157.30L318.51 156.97L318.93 156.63L319.33 156.29L319.72 155.94L320.10 155.57L320.47 155.20L320.82 154.82L321.16 154.43L321.49 154.03L321.81 153.61L322.12 153.19L322.41 152.77L322.70 152.34L322.97 151.92L323.23 151.50L323.48 151.08L323.72 150.67L323.95 150.27L324.16 149.88L324.37 149.51L324.56 149.15L324.73 148.80L324.90 148.47L325.05 148.15L325.19 147.83L325.31 147.53L325.42 147.24L325.52 146.95L325.61 146.67L325.69 146.40L325.76 146.13L325.83 145.86L325.90 145.60" stroke="#2a8c1c"/>
<path class="c" d="M29.00 228.40L30.27 228.38L31.54 228.36L32.82 228.34L34.09 228.33L35.36 228.31L36.63 228.29L37.90 228.27L39.16 228.25L40.43 228.23L41.69 228.21L42.95 228.19L44.21 228.17L45.47 228.15L46.72 228.13L47.97 228.10L49.22 228.08L50.46 228.06L51.71 228.03L52.94 228.01L54.18 227.98L55.41 227.96L56.63 227.93L57.85 227.90L59.07 227.87L60.28 227.85L61.48 227.81L62.68 227.78L63.88 227.75L65.07 227.72L66.25 227.68L67.43 227.65L68.60 227.61L69.76 227.58L70.92 227.54L72.07 227.50L73.21 227.46L74.35 227.42L75.48 227.37L76.60 227.33L77.72 227.29L78.83 227.24L79.93 227.20L81.03 227.15L82.12 227.11L83.20 227.06L84.28 227.02L85.35 226.97L86.41 226.93L87.47 226.88L88.52 226.84L89.56 226.79L90.59 226.75L91.62 226.70L92.65 226.66L93.66 226.62L94.67 226.57L95.67 226.53L96.67 226.49L97.66 226.45L98.64 226.41L99.62 226.38L100.58 226.34L101.55 226.31L102.50 226.27L103.45 226.24L104.39 226.21L105.32 226.18L106.25 226.15L107.17 226.12L108.09 226.10L108.99 226.07L109.89 226.05L110.79 226.03L111.67 226.01L112.55 225.99L113.42 225.97L114.29 225.96L115.15 225.94L116.00 225.93L116.85 225.92L117.68 225.91L118.52 225.91L119.34 225.90L120.16 225.90L120.97 225.90L121.77 225.90L122.57 225.90L123.36 225.90L124.14 225.90L124.92 225.90L125.70 225.90L126.46 225.90L127.22 225.90L127.98 225.90L128.73 225.89L129.48 225.89L130.22 225.88L130.95 225.86L131.68 225.84L132.41 225.82L133.13 225.79L133.85 225.76L134.56 225.73L135.27 225.68L135.98 225.63L136.68 225.58L137.38 225.52L138.08 225.46L138.77 225.39L139.46 225.33L140.14 225.25L140.82 225.18L141.50 225.11L142.17 225.03L142.84 224.96L143.50 224.88L144.16 224.80L144.82 224.73L145.47 224.66L146.12 224.59L146.76 224.52L147.40 224.46L148.04 224.40L148.67 224.34L149.29 224.29L149.91 224.23L150.52 224.17L151.13 224.11L151.73 224.04L152.32 223.98L152.90 223.90L153.47 223.82L154.03 223.73L154.58 223.64L155.12 223.53L155.65 223.41L156.17 223.28L156.67 223.14L157.17 222.99L157.65 222.82L158.12 222.64L158.59 222.45L159.04 222.25L159.50 222.04L159.94 221.83L160.38 221.60L160.81 221.36L161.25 221.11L161.68 220.86L162.11 220.60L162.54 220.33L162.96 220.05L163.39 219.77L163.83 219.49L164.26 219.21L164.69 218.93L165.13 218.65L165.57 218.37L166.02 218.10L166.47 217.84L166.93 217.59L167.39 217.34L167.86 217.11L168.33 216.90L168.81 216.69L169.30 216.50L169.80 216.33L170.30 216.17L170.80 216.03L171.30 215.90L171.81 215.79L172.33 215.70L172.84 215.63L173.35 215.57L173.87 215.53L174.38 215.50L174.90 215.50L175.41 215.51L175.92 215.54L176.43 215.59L176.94 215.65L177.44 215.72L177.95 215.81L178.45 215.90L178.96 216.00L179.46 216.10L179.97 216.21L180.47 216.33L180.98 216.44L181.48 216.55L181.99 216.66L182.50 216.77L183.00 216.88L183.51 216.98L184.03 217.08L184.54 217.17L185.07 217.26L185.59 217.35L186.12 217.43L186.66 217.51L187.21 217.58L187.76 217.65L188.33 217.71L188.90 217.77L189.48 217.82L190.07 217.87L190.67 217.91L191.27 217.95L191.88 217.99L192.49 218.01L193.10 218.04L193.70 218.06L194.31 218.07L194.91 218.09L195.50 218.10L196.08 218.10L196.65 218.11L197.20 218.11L197.74 218.10L198.27 218.10L198.77 218.09L199.27 218.08L199.75 218.07L200.22 218.06L200.70 218.04L201.17 218.02L201.65 218.00L202.14 217.98L202.64 217.95L203.17 217.92L203.71 217.89L204.27 217.85L204.87 217.81L205.50 217.76L206.16 217.72L206.85 217.67L207.56 217.61L208.30 217.56L209.05 217.50L209.83 217.44L210.61 217.38L211.41 217.31L212.21 217.25L213.02 217.18L213.83 217.12L214.63 217.05L215.43 216.98L216.23 216.92L217.01 216.85L217.78 216.79L218.53 216.73L219.26 216.66L219.97 216.60L220.65 216.54L221.31 216.49L221.94 216.43L222.56 216.38L223.16 216.32L223.74 216.26L224.32 216.21L224.88 216.15L225.44 216.09L225.99 216.02L226.53 215.95L227.08 215.88L227.63 215.81L228.19 215.73L228.75 215.64L229.32 215.55L229.90 215.45L230.49 215.35L231.09 215.24L231.69 215.12L232.29 215.00L232.89 214.88L233.49 214.75L234.09 214.62L234.69 214.48L235.28 214.34L235.86 214.20L236.43 214.06L236.99 213.91L237.54 213.76L238.07 213.61L238.59 213.45L239.10 213.30L239.59 213.14L240.06 212.97L240.53 212.80L240.99 212.63L241.44 212.44L241.88 212.25L242.32 212.05L242.76 211.83L243.19 211.61L243.63 211.37L244.06 211.12L244.50 210.86L244.94 210.58L245.38 210.29L245.82 209.99L246.26 209.69L246.71 209.38L247.15 209.07L247.59 208.75L248.02 208.44L248.46 208.13L248.89 207.83L249.31 207.53L249.74 207.24L250.15 206.97L250.56 206.70L250.97 206.45L251.37 206.21L251.76 205.99L252.16 205.77L252.55 205.57L252.93 205.38L253.32 205.21L253.70 205.04L254.08 204.89L254.46 204.75L254.84 204.62L255.22 204.50L255.61 204.40L255.99 204.31L256.39 204.23L256.79 204.16L257.20 204.10L257.62 204.06L258.06 204.03L258.50 204.01L258.97 204.00L259.45 204.00L259.94 204.02L260.45 204.05L260.97 204.08L261.51 204.13L262.05 204.18L262.60 204.23L263.15 204.29L263.71 204.35L264.27 204.42L264.83 204.49L265.38 204.55L265.93 204.62L266.48 204.68L267.02 204.73L267.55 204.79L268.07 204.83L268.59 204.88L269.11 204.91L269.62 204.95L270.14 204.97L270.65 205.00L271.17 205.01L271.70 205.02L272.23 205.03L272.76 205.03L273.31 205.02L273.87 205.00L274.44 204.98L275.02 204.96L275.61 204.92L276.21 204.89L276.83 204.85L277.45 204.80L278.08 204.75L278.71 204.70L279.36 204.65L280.01 204.60L280.66 204.55L281.32 204.50L281.99 204.46L282.65 204.41L283.32 204.37L283.99 204.33L284.67 204.30L285.34 204.27L286.01 204.24L286.68 204.22L287.35 204.20L288.02 204.19L288.69 204.17L289.36 204.15L290.02 204.14L290.69 204.12L291.35 204.10L292.01 204.07L292.66 204.04L293.32 204.01L293.96 203.97L294.61 203.93L295.25 203.87L295.89 203.81L296.52 203.74L297.15 203.66L297.77 203.58L298.39 203.48L299.01 203.38L299.63 203.28L300.24 203.16L300.85 203.05L301.46 202.93L302.06 202.81L302.67 202.68L303.28 202.56L303.89 202.43L304.49 202.31L305.10 202.18L305.71 202.06L306.32 201.94L306.93 201.82L307.55 201.70L308.16 201.59L308.78 201.47L309.39 201.36L310.01 201.25L310.63 201.14L311.25 201.03L311.87 200.93L312.49 200.82L313.10 200.72L313.72 200.61L314.34 200.50L314.96 200.40L315.57 200.29L316.19 200.18L316.80 200.08L317.41 199.97L318.02 199.86L318.63 199.75L319.24 199.64L319.85 199.53L320.46 199.42L321.06 199.30L321.67 199.19L322.28 199.08L322.88 198.97L323.49 198.85L324.09 198.74L324.69 198.63L325.30 198.51L325.90 198.40" stroke="#000000"/>
<path class="c" d="M29.00 233.00L30.21 233.00L31.42 233.00L32.63 233.00L33.83 232.99L35.04 232.99L36.25 232.99L37.45 232.99L38.65 232.99L39.85 232.99L41.04 232.99L42.24 232.99L43.43 232.98L44.61 232.98L45.80 232.98L46.97 232.98L48.15 232.98L49.31 232.98L50.48 232.98L51.64 232.99L52.79 232.99L53.93 232.99L55.07 232.99L56.21 232.99L57.33 232.99L58.45 233.00L59.56 233.00L60.67 233.00L61.77 233.01L62.86 233.01L63.94 233.01L65.02 233.02L66.10 233.02L67.18 233.03L68.26 233.03L69.34 233.03L70.43 233.04L71.51 233.04L72.60 233.04L73.70 233.05L74.81 233.05L75.92 233.05L77.05 233.05L78.18 233.05L79.33 233.05L80.49 233.05L81.67 233.04L82.86 233.04L84.07 233.03L85.30 233.03L86.54 233.02L87.81 233.01L89.10 233.00L90.42 232.99L91.75 232.97L93.10 232.96L94.47 232.94L95.84 232.93L97.23 232.91L98.63 232.89L100.03 232.87L101.43 232.85L102.82 232.82L104.22 232.80L105.61 232.78L106.99 232.76L108.35 232.73L109.70 232.71L111.04 232.68L112.35 232.66L113.64 232.63L114.91 232.61L116.14 232.59L117.35 232.56L118.52 232.54L119.65 232.51L120.75 232.49L121.80 232.47L122.81 232.45L123.77 232.43L124.68 232.41L125.54 232.39L126.35 232.37L127.11 232.35L127.83 232.34L128.52 232.33L129.18 232.32L129.82 232.31L130.44 232.31L131.05 232.30L131.66 232.31L132.26 232.31L132.86 232.33L133.48 232.34L134.11 232.36L134.76 232.39L135.44 232.42L136.14 232.46L136.87 232.50L137.61 232.55L138.37 232.60L139.14 232.66L139.91 232.72L140.69 232.78L141.46 232.84L142.23 232.91L142.99 232.98L143.73 233.05L144.46 233.12L145.17 233.20L145.85 233.27L146.50 233.34L147.12 233.41L147.70 233.49L148.25 233.56L148.77 233.63L149.26 233.70L149.73 233.77L150.18 233.85L150.61 233.92L151.02 234.00L151.42 234.08L151.82 234.16L152.20 234.25L152.59 234.33L152.97 234.42L153.34 234.51L153.72 234.61L154.09 234.70L154.47 234.79L154.84 234.89L155.22 234.98L155.60 235.07L155.98 235.16L156.37 235.25L156.75 235.33L157.14 235.41L157.53 235.49L157.91 235.57L158.30 235.63L158.68 235.70L159.07 235.76L159.45 235.81L159.83 235.85L160.21 235.89L160.59 235.93L160.97 235.96L161.36 235.98L161.74 235.99L162.13 236.00L162.52 236.00L162.91 236.00L163.30 235.98L163.69 235.96L164.08 235.92L164.47 235.87L164.85 235.81L165.24 235.74L165.62 235.65L165.99 235.54L166.37 235.42L166.74 235.29L167.11 235.15L167.48 234.99L167.84 234.82L168.21 234.65L168.57 234.47L168.94 234.28L169.30 234.08L169.66 233.88L170.03 233.67L170.39 233.46L170.75 233.24L171.11 233.02L171.47 232.80L171.83 232.57L172.18 232.35L172.53 232.12L172.89 231.90L173.24 231.67L173.59 231.45L173.94 231.23L174.29 231.02L174.65 230.81L175.01 230.61L175.37 230.42L175.74 230.23L176.11 230.05L176.48 229.88L176.86 229.71L177.24 229.56L177.61 229.41L177.99 229.27L178.36 229.14L178.74 229.02L179.11 228.91L179.47 228.80L179.84 228.70L180.20 228.60L180.57 228.51L180.94 228.43L181.31 228.34L181.70 228.26L182.09 228.18L182.49 228.10L182.90 228.03L183.33 227.95L183.77 227.87L184.24 227.80L184.72 227.73L185.24 227.66L185.78 227.59L186.35 227.53L186.96 227.47L187.60 227.41L188.28 227.35L189.00 227.30L189.75 227.25L190.53 227.21L191.34 227.16L192.18 227.12L193.04 227.08L193.92 227.05L194.82 227.02L195.73 226.99L196.66 226.96L197.59 226.93L198.54 226.91L199.49 226.89L200.44 226.87L201.38 226.85L202.33 226.84L203.27 226.82L204.20 226.81L205.11 226.80L206.02 226.79L206.91 226.78L207.78 226.78L208.65 226.77L209.50 226.77L210.34 226.77L211.18 226.77L212.00 226.77L212.81 226.77L213.62 226.78L214.41 226.79L215.20 226.80L215.98 226.81L216.76 226.82L217.53 226.84L218.30 226.85L219.06 226.87L219.82 226.89L220.58 226.92L221.33 226.94L222.08 226.97L222.83 227.00L223.57 227.03L224.32 227.07L225.05 227.10L225.79 227.14L226.52 227.19L227.25 227.23L227.97 227.28L228.69 227.33L229.41 227.38L230.12 227.44L230.83 227.49L231.53 227.56L232.23 227.62L232.92 227.69L233.61 227.76L234.30 227.83L234.97 227.91L235.64 227.99L236.29 228.06L236.94 228.14L237.57 228.22L238.20 228.30L238.81 228.38L239.40 228.46L239.98 228.54L240.54 228.62L241.09 228.70L241.62 228.77L242.13 228.85L242.63 228.91L243.11 228.97L243.59 229.03L244.06 229.07L244.52 229.10L244.98 229.12L245.44 229.13L245.91 229.12L246.37 229.09L246.84 229.05L247.32 228.99L247.79 228.91L248.27 228.81L248.75 228.69L249.23 228.55L249.72 228.40L250.19 228.22L250.67 228.03L251.14 227.82L251.61 227.59L252.08 227.35L252.54 227.09L252.99 226.81L253.45 226.52L253.91 226.22L254.37 225.92L254.84 225.61L255.31 225.30L255.79 224.99L256.29 224.67L256.79 224.37L257.30 224.07L257.84 223.77L258.38 223.49L258.94 223.21L259.51 222.95L260.08 222.69L260.66 222.45L261.24 222.21L261.82 221.98L262.40 221.76L262.97 221.56L263.53 221.36L264.08 221.17L264.61 220.99L265.13 220.82L265.63 220.66L266.11 220.51L266.59 220.37L267.05 220.24L267.52 220.11L267.99 220.00L268.47 219.88L268.96 219.77L269.48 219.67L270.01 219.57L270.57 219.47L271.17 219.37L271.80 219.28L272.47 219.19L273.16 219.09L273.89 219.00L274.63 218.91L275.40 218.82L276.18 218.74L276.99 218.65L277.80 218.56L278.62 218.47L279.45 218.38L280.28 218.29L281.12 218.20L281.95 218.11L282.77 218.02L283.59 217.92L284.39 217.83L285.18 217.73L285.96 217.63L286.72 217.53L287.47 217.43L288.21 217.32L288.94 217.22L289.65 217.11L290.36 217.01L291.06 216.90L291.75 216.79L292.43 216.68L293.11 216.57L293.78 216.47L294.45 216.36L295.11 216.25L295.77 216.14L296.42 216.03L297.08 215.92L297.73 215.81L298.38 215.70L299.04 215.59L299.69 215.47L300.34 215.35L301.00 215.23L301.66 215.10L302.32 214.97L302.98 214.83L303.64 214.68L304.31 214.52L304.99 214.36L305.66 214.19L306.35 214.01L307.04 213.81L307.73 213.61L308.42 213.40L309.11 213.18L309.80 212.96L310.48 212.72L311.15 212.48L311.82 212.23L312.47 211.97L313.12 211.71L313.74 211.44L314.35 211.17L314.95 210.89L315.52 210.61L316.07 210.32L316.59 210.03L317.09 209.73L317.57 209.44L318.03 209.13L318.47 208.83L318.89 208.52L319.29 208.20L319.69 207.88L320.07 207.56L320.43 207.23L320.79 206.90L321.14 206.56L321.48 206.22L321.81 205.87L322.14 205.52L322.45 205.17L322.75 204.82L323.04 204.46L323.32 204.11L323.59 203.75L323.83 203.40L324.07 203.05L324.28 202.70L324.48 202.36L324.66 202.02L324.83 201.69L324.99 201.36L325.12 201.03L325.25 200.72L325.36 200.41L325.46 200.11L325.55 199.81L325.63 199.52L325.71 199.24L325.77 198.96L325.84 198.68L325.90 198.40" stroke="#000000"/>
</g><g clip-path="url(#cb)">
<path class="c" d="M372.00 73.40L373.15 73.36L374.30 73.32L375.45 73.28L376.60 73.24L377.75 73.20L378.89 73.16L380.04 73.12L381.19 73.08L382.34 73.04L383.48 73.00L384.63 72.97L385.78 72.93L386.92 72.89L388.07 72.85L389.21 72.81L390.36 72.76L391.50 72.72L392.64 72.68L393.78 72.64L394.92 72.60L396.06 72.56L397.20 72.52L398.34 72.48L399.47 72.44L400.59 72.39L401.71 72.35L402.82 72.30L403.93 72.26L405.02 72.21L406.10 72.16L407.18 72.10L408.24 72.05L409.28 71.99L410.31 71.93L411.33 71.87L412.32 71.80L413.30 71.73L414.26 71.66L415.20 71.58L416.12 71.50L417.02 71.42L417.90 71.33L418.76 71.24L419.61 71.15L420.45 71.05L421.27 70.95L422.08 70.84L422.87 70.73L423.66 70.62L424.44 70.51L425.22 70.39L425.98 70.27L426.75 70.14L427.51 70.01L428.27 69.88L429.02 69.74L429.77 69.60L430.51 69.45L431.24 69.29L431.96 69.12L432.67 68.94L433.37 68.75L434.05 68.54L434.72 68.33L435.37 68.09L436.01 67.84L436.63 67.57L437.23 67.28L437.81 66.98L438.38 66.67L438.93 66.35L439.47 66.02L440.00 65.69L440.52 65.35L441.02 65.02L441.52 64.68L442.02 64.35L442.50 64.03L442.99 63.72L443.46 63.41L443.94 63.11L444.41 62.83L444.88 62.56L445.34 62.30L445.81 62.07L446.27 61.84L446.74 61.64L447.20 61.46L447.68 61.30L448.15 61.16L448.64 61.04L449.14 60.95L449.65 60.88L450.18 60.83L450.72 60.80L451.29 60.80L451.88 60.83L452.50 60.87L453.13 60.94L453.77 61.02L454.43 61.12L455.10 61.24L455.77 61.37L456.46 61.50L457.14 61.65L457.83 61.80L458.52 61.96L459.20 62.12L459.88 62.28L460.56 62.44L461.25 62.60L461.93 62.75L462.62 62.91L463.32 63.06L464.02 63.20L464.74 63.34L465.47 63.47L466.21 63.59L466.97 63.70L467.75 63.81L468.54 63.90L469.36 63.98L470.19 64.04L471.03 64.10L471.88 64.15L472.73 64.19L473.59 64.23L474.45 64.26L475.31 64.28L476.17 64.29L477.02 64.30L477.86 64.30L478.69 64.30L479.51 64.30L480.31 64.30L481.09 64.29L481.85 64.28L482.61 64.27L483.35 64.26L484.09 64.25L484.83 64.23L485.57 64.21L486.30 64.20L487.05 64.18L487.80 64.16L488.56 64.14L489.33 64.12L490.13 64.10L490.93 64.08L491.76 64.05L492.59 64.03L493.44 64.01L494.29 63.98L495.14 63.95L496.00 63.92L496.85 63.89L497.70 63.85L498.53 63.81L499.36 63.77L500.17 63.72L500.97 63.67L501.74 63.62L502.49 63.56L503.22 63.49L503.93 63.42L504.62 63.34L505.29 63.25L505.94 63.16L506.58 63.05L507.21 62.92L507.82 62.79L508.43 62.64L509.03 62.47L509.63 62.29L510.22 62.09L510.81 61.88L511.39 61.65L511.97 61.40L512.54 61.15L513.10 60.89L513.65 60.62L514.19 60.35L514.73 60.07L515.25 59.79L515.76 59.51L516.26 59.23L516.75 58.96L517.23 58.69L517.71 58.43L518.18 58.18L518.65 57.94L519.11 57.72L519.58 57.51L520.06 57.32L520.54 57.14L521.02 56.99L521.52 56.86L522.01 56.76L522.52 56.67L523.03 56.62L523.54 56.58L524.07 56.58L524.59 56.60L525.13 56.65L525.67 56.72L526.22 56.82L526.78 56.93L527.35 57.06L527.93 57.19L528.52 57.33L529.12 57.47L529.74 57.62L530.37 57.75L531.02 57.88L531.68 58.00L532.36 58.11L533.05 58.21L533.75 58.30L534.46 58.38L535.18 58.46L535.92 58.53L536.66 58.59L537.41 58.65L538.16 58.70L538.92 58.75L539.69 58.80L540.46 58.84L541.23 58.88L542.00 58.92L542.78 58.96L543.56 58.99L544.34 59.01L545.11 59.04L545.89 59.06L546.67 59.08L547.45 59.09L548.22 59.10L548.99 59.10L549.76 59.10L550.53 59.10L551.29 59.09L552.05 59.08L552.81 59.06L553.56 59.04L554.31 59.02L555.06 59.00L555.80 58.97L556.55 58.94L557.29 58.91L558.03 58.88L558.77 58.85L559.51 58.82L560.24 58.79L560.98 58.76L561.72 58.73L562.46 58.70L563.20 58.67L563.94 58.64L564.69 58.61L565.44 58.59L566.19 58.56L566.96 58.53L567.73 58.49L568.50 58.46L569.29 58.43L570.08 58.40L570.88 58.36L571.69 58.32L572.49 58.29L573.29 58.24L574.07 58.20L574.84 58.15L575.58 58.10L576.30 58.04L576.98 57.97L577.62 57.90L578.22 57.83L578.76 57.74L579.25 57.65L579.70 57.55L580.10 57.44L580.48 57.33L580.85 57.20L581.23 57.07L581.63 56.93L582.06 56.78L582.53 56.62L583.04 56.45L583.58 56.27L584.14 56.08L584.71 55.87L585.29 55.65L585.87 55.40L586.44 55.14L586.99 54.86L587.52 54.55L588.01 54.22L588.48 53.87L588.91 53.50L589.33 53.11L589.72 52.71L590.09 52.30L590.44 51.89L590.79 51.47L591.12 51.06L591.45 50.64L591.77 50.23L592.09 49.83L592.40 49.43L592.71 49.02L593.02 48.62L593.33 48.21L593.64 47.80L593.94 47.37L594.24 46.94L594.54 46.50L594.84 46.05L595.14 45.59L595.43 45.13L595.72 44.66L596.02 44.19L596.31 43.73L596.59 43.26L596.88 42.79L597.16 42.34L597.45 41.88L597.73 41.44L598.02 41.00L598.32 40.58L598.62 40.16L598.94 39.76L599.27 39.36L599.62 38.99L599.98 38.62L600.37 38.28L600.78 37.96L601.20 37.67L601.64 37.41L602.09 37.19L602.55 37.01L603.03 36.88L603.51 36.81L604.01 36.79L604.51 36.83L605.01 36.92L605.52 37.04L606.03 37.20L606.54 37.39L607.04 37.59L607.55 37.81L608.04 38.03L608.53 38.25L609.01 38.46L609.48 38.66L609.94 38.86L610.39 39.04L610.84 39.21L611.27 39.37L611.68 39.51L612.09 39.63L612.49 39.73L612.88 39.81L613.27 39.88L613.67 39.95L614.08 40.00L614.51 40.05L614.97 40.10L615.45 40.14L615.97 40.19L616.51 40.24L617.07 40.28L617.66 40.32L618.27 40.36L618.90 40.38L619.54 40.40L620.20 40.41L620.87 40.41L621.55 40.39L622.23 40.36L622.93 40.32L623.63 40.27L624.33 40.20L625.04 40.12L625.76 40.04L626.48 39.94L627.21 39.83L627.94 39.71L628.67 39.59L629.40 39.45L630.14 39.31L630.87 39.16L631.61 39.01L632.34 38.84L633.08 38.68L633.82 38.50L634.56 38.32L635.29 38.13L636.03 37.94L636.77 37.74L637.51 37.53L638.24 37.32L638.98 37.11L639.71 36.89L640.45 36.66L641.18 36.43L641.92 36.20L642.65 35.97L643.38 35.73L644.12 35.49L644.85 35.24L645.59 34.99L646.32 34.75L647.06 34.50L647.80 34.25L648.54 33.99L649.28 33.74L650.03 33.49L650.78 33.24L651.53 32.99L652.28 32.74L653.03 32.49L653.78 32.24L654.53 31.99L655.28 31.75L656.02 31.51L656.76 31.27L657.50 31.03L658.23 30.80L658.96 30.56L659.67 30.33L660.39 30.11L661.09 29.89L661.79 29.67L662.48 29.45L663.16 29.24L663.84 29.03L664.51 28.82L665.18 28.62L665.85 28.41L666.52 28.21L667.18 28.00L667.84 27.80L668.50 27.60" stroke="#ff1e16"/>
<path class="c" d="M372.00 79.90L373.10 79.90L374.19 79.89L375.29 79.89L376.38 79.88L377.47 79.88L378.55 79.87L379.64 79.87L380.72 79.86L381.79 79.86L382.86 79.85L383.92 79.85L384.98 79.84L386.03 79.83L387.07 79.83L388.10 79.82L389.12 79.81L390.14 79.81L391.14 79.80L392.13 79.79L393.11 79.78L394.08 79.77L395.04 79.76L395.98 79.75L396.91 79.74L397.82 79.73L398.72 79.72L399.60 79.71L400.47 79.69L401.32 79.68L402.15 79.67L402.97 79.65L403.78 79.64L404.57 79.62L405.35 79.60L406.12 79.59L406.87 79.57L407.62 79.56L408.35 79.54L409.08 79.53L409.79 79.51L410.50 79.49L411.20 79.48L411.90 79.46L412.59 79.45L413.27 79.43L413.95 79.42L414.63 79.41L415.30 79.39L415.97 79.38L416.64 79.37L417.30 79.36L417.97 79.35L418.63 79.34L419.29 79.34L419.95 79.33L420.62 79.33L421.28 79.33L421.94 79.33L422.61 79.33L423.27 79.33L423.94 79.34L424.61 79.35L425.28 79.36L425.96 79.37L426.64 79.39L427.32 79.41L428.01 79.43L428.69 79.45L429.38 79.48L430.06 79.51L430.74 79.53L431.41 79.56L432.08 79.59L432.73 79.61L433.38 79.63L434.00 79.65L434.62 79.67L435.21 79.69L435.79 79.70L436.35 79.71L436.88 79.71L437.39 79.70L437.87 79.69L438.33 79.68L438.77 79.65L439.18 79.62L439.59 79.58L439.98 79.54L440.36 79.48L440.75 79.41L441.13 79.34L441.51 79.25L441.91 79.15L442.31 79.04L442.73 78.92L443.15 78.79L443.59 78.65L444.04 78.50L444.49 78.34L444.96 78.18L445.43 78.02L445.90 77.85L446.38 77.68L446.86 77.52L447.35 77.35L447.84 77.19L448.33 77.03L448.82 76.87L449.31 76.72L449.81 76.57L450.30 76.43L450.80 76.29L451.31 76.16L451.82 76.03L452.34 75.91L452.87 75.80L453.40 75.68L453.94 75.58L454.50 75.48L455.06 75.38L455.63 75.30L456.22 75.21L456.82 75.13L457.43 75.06L458.04 74.99L458.68 74.93L459.32 74.87L459.97 74.82L460.63 74.77L461.30 74.72L461.98 74.67L462.66 74.63L463.36 74.59L464.06 74.56L464.77 74.52L465.49 74.49L466.22 74.46L466.95 74.43L467.69 74.40L468.43 74.37L469.18 74.34L469.94 74.32L470.70 74.29L471.47 74.26L472.24 74.24L473.02 74.21L473.80 74.18L474.59 74.16L475.39 74.13L476.19 74.10L476.99 74.08L477.80 74.05L478.62 74.02L479.44 74.00L480.27 73.97L481.10 73.94L481.94 73.91L482.78 73.88L483.63 73.85L484.48 73.82L485.34 73.79L486.20 73.75L487.07 73.72L487.94 73.69L488.81 73.65L489.68 73.61L490.56 73.58L491.44 73.54L492.31 73.50L493.19 73.46L494.07 73.42L494.94 73.37L495.82 73.33L496.69 73.29L497.56 73.24L498.42 73.20L499.28 73.15L500.14 73.10L500.99 73.05L501.83 73.00L502.67 72.95L503.50 72.90L504.33 72.84L505.14 72.79L505.95 72.74L506.74 72.68L507.53 72.62L508.31 72.56L509.09 72.50L509.86 72.45L510.62 72.39L511.37 72.33L512.12 72.26L512.86 72.20L513.60 72.14L514.34 72.08L515.07 72.02L515.79 71.96L516.51 71.90L517.23 71.84L517.95 71.78L518.66 71.72L519.37 71.66L520.08 71.60L520.79 71.54L521.50 71.49L522.21 71.43L522.92 71.37L523.63 71.32L524.35 71.27L525.06 71.21L525.78 71.16L526.51 71.11L527.24 71.06L527.98 71.01L528.72 70.96L529.48 70.91L530.24 70.87L531.01 70.82L531.79 70.78L532.58 70.73L533.38 70.69L534.20 70.65L535.03 70.61L535.87 70.57L536.73 70.53L537.59 70.49L538.48 70.46L539.37 70.42L540.27 70.39L541.19 70.35L542.12 70.32L543.05 70.28L544.00 70.25L544.95 70.22L545.91 70.18L546.88 70.15L547.86 70.12L548.84 70.09L549.83 70.05L550.83 70.02L551.83 69.99L552.83 69.95L553.84 69.92L554.85 69.89L555.87 69.85L556.89 69.81L557.90 69.78L558.92 69.74L559.94 69.70L560.96 69.66L561.98 69.62L563.00 69.58L564.02 69.54L565.03 69.49L566.05 69.44L567.06 69.40L568.06 69.34L569.07 69.29L570.07 69.24L571.06 69.18L572.05 69.12L573.03 69.05L574.00 68.99L574.97 68.92L575.93 68.85L576.89 68.77L577.83 68.69L578.77 68.61L579.70 68.52L580.61 68.43L581.52 68.33L582.41 68.24L583.30 68.13L584.17 68.02L585.03 67.91L585.87 67.79L586.71 67.67L587.53 67.54L588.34 67.41L589.13 67.28L589.92 67.14L590.69 67.00L591.46 66.85L592.21 66.70L592.95 66.55L593.68 66.40L594.40 66.25L595.12 66.09L595.82 65.93L596.51 65.77L597.20 65.61L597.87 65.45L598.54 65.29L599.20 65.12L599.85 64.96L600.50 64.80L601.14 64.64L601.77 64.48L602.39 64.32L603.01 64.16L603.62 64.00L604.23 63.84L604.83 63.69L605.42 63.53L606.01 63.38L606.60 63.23L607.18 63.09L607.75 62.94L608.33 62.80L608.90 62.66L609.46 62.53L610.02 62.39L610.58 62.27L611.14 62.14L611.70 62.02L612.26 61.90L612.82 61.78L613.39 61.66L613.96 61.55L614.54 61.43L615.13 61.32L615.73 61.20L616.35 61.08L616.98 60.97L617.62 60.85L618.28 60.73L618.96 60.60L619.66 60.48L620.38 60.35L621.13 60.22L621.89 60.08L622.66 59.94L623.45 59.80L624.25 59.66L625.05 59.51L625.86 59.36L626.67 59.21L627.47 59.06L628.26 58.91L629.05 58.76L629.82 58.60L630.58 58.45L631.31 58.30L632.03 58.14L632.72 57.99L633.38 57.84L634.00 57.69L634.60 57.53L635.15 57.39L635.67 57.24L636.15 57.09L636.60 56.95L637.02 56.81L637.43 56.67L637.82 56.53L638.20 56.40L638.57 56.26L638.95 56.13L639.33 56.01L639.72 55.88L640.13 55.76L640.56 55.64L641.00 55.53L641.46 55.41L641.94 55.29L642.43 55.16L642.92 55.03L643.43 54.89L643.95 54.74L644.47 54.57L645.00 54.40L645.53 54.21L646.07 54.00L646.60 53.78L647.14 53.53L647.67 53.27L648.20 52.98L648.73 52.68L649.25 52.36L649.76 52.03L650.28 51.68L650.78 51.33L651.28 50.96L651.78 50.59L652.26 50.21L652.74 49.82L653.21 49.44L653.67 49.05L654.13 48.66L654.57 48.28L655.00 47.90L655.42 47.53L655.83 47.16L656.23 46.79L656.62 46.43L657.00 46.07L657.37 45.70L657.73 45.34L658.08 44.97L658.43 44.60L658.77 44.22L659.11 43.84L659.43 43.44L659.76 43.04L660.08 42.63L660.39 42.21L660.70 41.78L661.00 41.33L661.30 40.88L661.60 40.43L661.88 39.96L662.17 39.50L662.45 39.03L662.72 38.55L662.98 38.08L663.24 37.61L663.50 37.15L663.74 36.68L663.98 36.22L664.22 35.77L664.44 35.32L664.66 34.89L664.88 34.46L665.09 34.03L665.29 33.61L665.50 33.21L665.69 32.80L665.89 32.41L666.08 32.02L666.27 31.65L666.46 31.28L666.65 30.91L666.83 30.56L667.02 30.21L667.20 29.87L667.39 29.54L667.58 29.21L667.76 28.88L667.95 28.56L668.13 28.24L668.32 27.92L668.50 27.60" stroke="#ff1e16"/>
<path class="c" d="M372.00 126.00L373.36 125.94L374.71 125.88L376.07 125.82L377.43 125.77L378.78 125.71L380.14 125.65L381.49 125.59L382.84 125.54L384.20 125.48L385.55 125.42L386.90 125.36L388.25 125.31L389.60 125.25L390.94 125.20L392.29 125.14L393.63 125.09L394.97 125.03L396.31 124.98L397.65 124.93L398.98 124.87L400.32 124.82L401.65 124.77L402.97 124.72L404.30 124.67L405.62 124.62L406.94 124.58L408.26 124.53L409.57 124.48L410.88 124.44L412.19 124.39L413.49 124.35L414.79 124.31L416.08 124.27L417.37 124.22L418.64 124.18L419.91 124.14L421.16 124.10L422.40 124.06L423.62 124.02L424.83 123.98L426.02 123.94L427.20 123.89L428.35 123.85L429.48 123.80L430.59 123.76L431.68 123.71L432.73 123.66L433.77 123.61L434.77 123.56L435.75 123.50L436.69 123.44L437.60 123.38L438.48 123.32L439.32 123.26L440.13 123.19L440.90 123.12L441.64 123.05L442.34 122.97L443.02 122.89L443.67 122.81L444.30 122.73L444.92 122.65L445.52 122.57L446.11 122.49L446.68 122.41L447.26 122.33L447.83 122.26L448.40 122.18L448.97 122.10L449.56 122.03L450.14 121.96L450.73 121.88L451.33 121.81L451.92 121.72L452.52 121.63L453.11 121.53L453.69 121.42L454.27 121.30L454.85 121.16L455.41 121.01L455.96 120.83L456.51 120.64L457.03 120.42L457.55 120.18L458.05 119.92L458.54 119.65L459.02 119.36L459.49 119.05L459.96 118.74L460.43 118.41L460.88 118.08L461.34 117.74L461.80 117.40L462.25 117.06L462.71 116.72L463.17 116.37L463.64 116.04L464.11 115.70L464.58 115.37L465.05 115.04L465.52 114.72L466.00 114.40L466.47 114.09L466.95 113.78L467.43 113.49L467.91 113.20L468.39 112.92L468.88 112.64L469.36 112.38L469.85 112.13L470.34 111.90L470.83 111.68L471.33 111.48L471.83 111.31L472.34 111.15L472.85 111.02L473.37 110.92L473.90 110.85L474.44 110.81L474.99 110.80L475.55 110.82L476.11 110.87L476.68 110.95L477.26 111.05L477.84 111.17L478.43 111.30L479.01 111.44L479.60 111.60L480.19 111.76L480.78 111.92L481.37 112.08L481.95 112.24L482.53 112.38L483.11 112.53L483.69 112.66L484.27 112.78L484.85 112.90L485.44 113.01L486.04 113.12L486.65 113.22L487.27 113.32L487.91 113.41L488.57 113.50L489.25 113.58L489.96 113.66L490.69 113.75L491.45 113.83L492.24 113.90L493.05 113.98L493.89 114.06L494.76 114.13L495.64 114.21L496.54 114.28L497.46 114.34L498.40 114.41L499.34 114.47L500.29 114.53L501.26 114.59L502.22 114.64L503.19 114.69L504.16 114.73L505.13 114.77L506.09 114.81L507.05 114.84L508.00 114.86L508.93 114.88L509.86 114.90L510.77 114.91L511.66 114.91L512.54 114.91L513.41 114.90L514.27 114.89L515.11 114.88L515.94 114.86L516.77 114.84L517.58 114.82L518.39 114.80L519.19 114.77L519.98 114.75L520.77 114.72L521.56 114.70L522.34 114.67L523.11 114.65L523.89 114.63L524.67 114.61L525.44 114.59L526.21 114.58L526.99 114.56L527.76 114.55L528.52 114.54L529.29 114.53L530.05 114.51L530.80 114.50L531.54 114.48L532.28 114.45L533.01 114.42L533.73 114.38L534.43 114.34L535.13 114.29L535.81 114.23L536.48 114.16L537.14 114.08L537.78 113.99L538.41 113.89L539.02 113.78L539.62 113.66L540.21 113.54L540.79 113.40L541.36 113.26L541.92 113.11L542.47 112.96L543.01 112.80L543.55 112.63L544.09 112.47L544.61 112.30L545.14 112.12L545.66 111.95L546.18 111.77L546.70 111.60L547.21 111.42L547.72 111.25L548.22 111.09L548.72 110.93L549.22 110.78L549.71 110.64L550.20 110.50L550.69 110.38L551.18 110.27L551.66 110.17L552.14 110.08L552.62 110.00L553.10 109.94L553.58 109.88L554.06 109.84L554.55 109.81L555.05 109.80L555.54 109.80L556.05 109.80L556.56 109.82L557.08 109.86L557.60 109.90L558.14 109.95L558.67 110.01L559.22 110.07L559.77 110.14L560.33 110.21L560.90 110.28L561.47 110.36L562.04 110.43L562.63 110.50L563.21 110.57L563.81 110.64L564.41 110.71L565.02 110.77L565.63 110.82L566.26 110.88L566.89 110.92L567.53 110.97L568.18 111.00L568.83 111.04L569.50 111.06L570.17 111.08L570.86 111.09L571.56 111.10L572.26 111.10L572.98 111.09L573.71 111.07L574.44 111.05L575.19 111.03L575.95 111.00L576.71 110.96L577.48 110.92L578.26 110.88L579.05 110.84L579.84 110.80L580.64 110.75L581.45 110.70L582.27 110.66L583.09 110.61L583.91 110.57L584.74 110.52L585.57 110.48L586.41 110.44L587.25 110.41L588.10 110.37L588.94 110.34L589.78 110.31L590.62 110.28L591.46 110.25L592.30 110.21L593.13 110.18L593.95 110.15L594.77 110.11L595.58 110.08L596.38 110.04L597.17 109.99L597.95 109.95L598.72 109.90L599.47 109.84L600.21 109.78L600.93 109.72L601.64 109.65L602.34 109.58L603.02 109.50L603.68 109.42L604.33 109.34L604.97 109.25L605.59 109.17L606.20 109.07L606.80 108.98L607.38 108.89L607.94 108.79L608.50 108.69L609.04 108.59L609.56 108.49L610.08 108.39L610.59 108.28L611.09 108.17L611.58 108.05L612.08 107.91L612.57 107.76L613.07 107.60L613.58 107.41L614.09 107.21L614.61 106.98L615.14 106.73L615.68 106.46L616.23 106.16L616.79 105.84L617.36 105.50L617.92 105.14L618.48 104.76L619.04 104.37L619.59 103.97L620.12 103.56L620.64 103.13L621.15 102.70L621.63 102.27L622.09 101.83L622.52 101.39L622.92 100.95L623.29 100.50L623.64 100.06L623.97 99.62L624.28 99.18L624.58 98.73L624.86 98.28L625.13 97.83L625.40 97.37L625.67 96.91L625.93 96.44L626.20 95.96L626.48 95.49L626.77 95.00L627.06 94.51L627.36 94.02L627.67 93.53L627.97 93.05L628.29 92.57L628.60 92.10L628.91 91.63L629.23 91.18L629.55 90.74L629.86 90.32L630.17 89.91L630.48 89.52L630.79 89.15L631.09 88.80L631.39 88.47L631.69 88.16L631.99 87.87L632.29 87.59L632.58 87.33L632.88 87.09L633.17 86.87L633.47 86.67L633.77 86.49L634.07 86.32L634.38 86.18L634.70 86.07L635.03 85.97L635.37 85.90L635.73 85.86L636.10 85.84L636.48 85.85L636.87 85.88L637.28 85.94L637.69 86.01L638.12 86.11L638.56 86.23L639.01 86.37L639.47 86.53L639.94 86.70L640.41 86.89L640.90 87.09L641.39 87.29L641.90 87.49L642.41 87.69L642.93 87.89L643.46 88.08L643.99 88.26L644.53 88.43L645.08 88.57L645.64 88.70L646.20 88.80L646.77 88.88L647.35 88.95L647.93 88.99L648.51 89.02L649.10 89.04L649.68 89.04L650.27 89.03L650.86 89.01L651.45 88.98L652.03 88.95L652.62 88.91L653.20 88.86L653.78 88.81L654.36 88.75L654.93 88.69L655.51 88.62L656.08 88.54L656.66 88.46L657.23 88.37L657.81 88.28L658.38 88.17L658.96 88.06L659.54 87.94L660.12 87.82L660.71 87.68L661.30 87.54L661.89 87.39L662.48 87.23L663.08 87.06L663.67 86.89L664.27 86.72L664.88 86.54L665.48 86.35L666.08 86.17L666.68 85.98L667.29 85.79L667.89 85.59L668.50 85.40" stroke="#1010ff"/>
<path class="c" d="M372.00 132.00L373.16 131.95L374.32 131.89L375.48 131.84L376.63 131.78L377.79 131.73L378.95 131.68L380.10 131.62L381.26 131.57L382.41 131.52L383.57 131.47L384.72 131.41L385.87 131.36L387.02 131.31L388.17 131.26L389.31 131.21L390.46 131.16L391.60 131.11L392.74 131.07L393.88 131.02L395.02 130.97L396.15 130.93L397.29 130.88L398.42 130.84L399.54 130.80L400.67 130.76L401.79 130.72L402.91 130.68L404.02 130.64L405.13 130.60L406.24 130.57L407.35 130.53L408.45 130.50L409.55 130.47L410.64 130.44L411.73 130.41L412.82 130.38L413.90 130.35L414.98 130.33L416.05 130.31L417.11 130.28L418.17 130.26L419.22 130.24L420.27 130.22L421.30 130.20L422.33 130.19L423.35 130.17L424.36 130.16L425.35 130.14L426.34 130.13L427.31 130.11L428.28 130.10L429.23 130.08L430.17 130.07L431.09 130.06L432.00 130.04L432.89 130.03L433.77 130.02L434.64 130.00L435.49 129.99L436.32 129.97L437.13 129.96L437.93 129.94L438.70 129.93L439.46 129.91L440.20 129.90L440.92 129.88L441.62 129.86L442.30 129.84L442.97 129.82L443.63 129.80L444.27 129.78L444.90 129.76L445.51 129.74L446.12 129.73L446.72 129.71L447.32 129.69L447.91 129.68L448.49 129.66L449.07 129.65L449.65 129.63L450.23 129.62L450.81 129.61L451.40 129.61L451.98 129.60L452.58 129.60L453.17 129.59L453.77 129.59L454.37 129.59L454.97 129.59L455.57 129.59L456.17 129.59L456.77 129.58L457.37 129.57L457.97 129.56L458.56 129.55L459.15 129.53L459.73 129.51L460.30 129.48L460.87 129.45L461.42 129.41L461.97 129.36L462.51 129.31L463.04 129.25L463.56 129.18L464.06 129.10L464.56 129.02L465.06 128.93L465.54 128.84L466.02 128.74L466.50 128.64L466.98 128.53L467.45 128.43L467.92 128.32L468.39 128.20L468.87 128.09L469.34 127.98L469.82 127.86L470.31 127.75L470.80 127.64L471.29 127.53L471.79 127.42L472.30 127.32L472.81 127.21L473.32 127.11L473.85 127.01L474.38 126.91L474.91 126.81L475.46 126.72L476.01 126.63L476.56 126.54L477.12 126.46L477.69 126.38L478.27 126.30L478.85 126.23L479.45 126.16L480.05 126.09L480.65 126.03L481.27 125.98L481.89 125.92L482.52 125.87L483.15 125.82L483.79 125.78L484.44 125.73L485.10 125.69L485.76 125.66L486.43 125.62L487.10 125.59L487.78 125.56L488.47 125.53L489.16 125.51L489.86 125.48L490.57 125.46L491.28 125.44L491.99 125.42L492.72 125.40L493.44 125.38L494.18 125.36L494.91 125.35L495.65 125.33L496.40 125.32L497.14 125.30L497.89 125.29L498.65 125.28L499.40 125.27L500.16 125.25L500.91 125.24L501.67 125.23L502.42 125.22L503.18 125.21L503.94 125.20L504.69 125.19L505.44 125.17L506.19 125.16L506.94 125.15L507.68 125.14L508.42 125.13L509.16 125.12L509.89 125.10L510.62 125.09L511.34 125.07L512.06 125.06L512.77 125.04L513.48 125.03L514.18 125.01L514.89 125.00L515.58 124.98L516.28 124.97L516.97 124.95L517.66 124.94L518.35 124.92L519.04 124.91L519.73 124.89L520.41 124.88L521.09 124.86L521.78 124.85L522.46 124.84L523.14 124.83L523.82 124.82L524.50 124.81L525.19 124.80L525.87 124.79L526.55 124.78L527.24 124.78L527.93 124.77L528.61 124.76L529.30 124.76L529.99 124.75L530.68 124.74L531.37 124.73L532.07 124.72L532.76 124.70L533.46 124.69L534.15 124.67L534.85 124.65L535.55 124.63L536.25 124.60L536.96 124.57L537.66 124.54L538.37 124.50L539.07 124.46L539.78 124.41L540.49 124.36L541.20 124.31L541.92 124.25L542.63 124.19L543.34 124.12L544.06 124.05L544.77 123.98L545.48 123.90L546.19 123.83L546.90 123.75L547.61 123.67L548.31 123.59L549.01 123.51L549.70 123.42L550.40 123.34L551.08 123.26L551.77 123.18L552.44 123.10L553.12 123.02L553.78 122.95L554.44 122.87L555.09 122.80L555.74 122.73L556.37 122.67L557.01 122.60L557.64 122.54L558.27 122.49L558.90 122.43L559.54 122.38L560.18 122.33L560.82 122.28L561.47 122.23L562.14 122.19L562.81 122.15L563.49 122.10L564.19 122.06L564.90 122.03L565.63 121.99L566.38 121.95L567.16 121.92L567.95 121.89L568.76 121.85L569.61 121.82L570.48 121.79L571.37 121.76L572.30 121.73L573.24 121.70L574.20 121.67L575.18 121.64L576.17 121.61L577.17 121.58L578.18 121.56L579.19 121.53L580.20 121.50L581.21 121.47L582.22 121.44L583.21 121.41L584.20 121.38L585.18 121.35L586.13 121.32L587.07 121.29L587.99 121.26L588.88 121.22L589.75 121.19L590.58 121.15L591.38 121.12L592.14 121.08L592.86 121.04L593.54 121.00L594.17 120.96L594.76 120.92L595.30 120.88L595.78 120.83L596.23 120.78L596.64 120.73L597.02 120.68L597.39 120.63L597.74 120.58L598.09 120.52L598.44 120.46L598.80 120.40L599.18 120.33L599.59 120.27L600.02 120.20L600.49 120.12L601.00 120.05L601.55 119.97L602.12 119.89L602.73 119.81L603.36 119.72L604.02 119.63L604.70 119.54L605.40 119.44L606.12 119.34L606.85 119.24L607.60 119.14L608.35 119.03L609.12 118.92L609.89 118.81L610.67 118.70L611.44 118.58L612.22 118.46L612.99 118.34L613.76 118.21L614.52 118.08L615.27 117.95L616.00 117.82L616.73 117.68L617.45 117.54L618.15 117.40L618.85 117.26L619.55 117.11L620.23 116.96L620.91 116.80L621.59 116.65L622.26 116.49L622.94 116.32L623.60 116.16L624.27 115.99L624.94 115.82L625.61 115.64L626.28 115.46L626.95 115.28L627.63 115.09L628.31 114.91L628.99 114.71L629.69 114.52L630.39 114.32L631.09 114.12L631.80 113.91L632.52 113.70L633.24 113.49L633.96 113.28L634.69 113.06L635.41 112.84L636.13 112.62L636.85 112.40L637.56 112.18L638.27 111.96L638.97 111.74L639.66 111.52L640.34 111.29L641.02 111.07L641.68 110.85L642.33 110.63L642.96 110.41L643.58 110.19L644.18 109.98L644.77 109.76L645.33 109.55L645.88 109.34L646.40 109.13L646.91 108.92L647.41 108.72L647.89 108.51L648.36 108.29L648.82 108.08L649.27 107.86L649.71 107.64L650.15 107.41L650.58 107.17L651.02 106.93L651.45 106.68L651.88 106.42L652.32 106.15L652.75 105.86L653.20 105.57L653.65 105.27L654.10 104.95L654.55 104.63L655.01 104.30L655.46 103.96L655.92 103.61L656.37 103.26L656.81 102.90L657.26 102.53L657.69 102.16L658.12 101.78L658.55 101.41L658.96 101.03L659.36 100.64L659.75 100.26L660.13 99.88L660.49 99.49L660.84 99.11L661.18 98.72L661.51 98.34L661.82 97.95L662.13 97.57L662.43 97.18L662.72 96.79L663.00 96.40L663.27 96.00L663.54 95.60L663.81 95.21L664.07 94.80L664.33 94.40L664.58 93.99L664.84 93.57L665.09 93.16L665.34 92.74L665.59 92.32L665.84 91.90L666.07 91.48L666.30 91.07L666.53 90.66L666.74 90.25L666.94 89.86L667.13 89.47L667.31 89.09L667.48 88.72L667.63 88.37L667.77 88.03L667.89 87.70L667.99 87.39L668.09 87.08L668.17 86.79L668.25 86.50L668.32 86.22L668.38 85.95L668.44 85.67L668.50 85.40" stroke="#1010ff"/>
<path class="c" d="M372.00 184.90L373.19 184.86L374.38 184.82L375.58 184.78L376.77 184.73L377.96 184.69L379.16 184.65L380.36 184.61L381.56 184.57L382.77 184.52L383.98 184.48L385.19 184.44L386.41 184.40L387.63 184.36L388.86 184.31L390.09 184.27L391.33 184.23L392.57 184.18L393.83 184.14L395.08 184.09L396.35 184.05L397.62 184.01L398.91 183.96L400.20 183.92L401.50 183.87L402.81 183.82L404.13 183.78L405.46 183.73L406.80 183.68L408.15 183.64L409.51 183.59L410.88 183.54L412.27 183.49L413.67 183.44L415.08 183.39L416.49 183.34L417.92 183.29L419.35 183.24L420.78 183.19L422.22 183.14L423.66 183.08L425.10 183.03L426.53 182.98L427.96 182.92L429.39 182.87L430.81 182.82L432.22 182.76L433.62 182.71L435.01 182.65L436.38 182.60L437.74 182.54L439.08 182.49L440.40 182.43L441.71 182.37L442.99 182.32L444.25 182.26L445.48 182.20L446.69 182.15L447.87 182.09L449.02 182.03L450.13 181.98L451.22 181.92L452.27 181.86L453.28 181.80L454.26 181.75L455.19 181.69L456.09 181.63L456.95 181.57L457.77 181.51L458.56 181.46L459.32 181.40L460.05 181.34L460.76 181.28L461.44 181.22L462.10 181.15L462.73 181.09L463.36 181.03L463.96 180.96L464.56 180.90L465.14 180.83L465.72 180.76L466.29 180.69L466.86 180.62L467.43 180.54L468.00 180.47L468.56 180.39L469.13 180.30L469.69 180.21L470.24 180.11L470.79 180.01L471.34 179.89L471.88 179.77L472.41 179.63L472.94 179.48L473.46 179.32L473.97 179.15L474.47 178.95L474.95 178.75L475.43 178.52L475.90 178.28L476.36 178.03L476.81 177.75L477.26 177.47L477.70 177.17L478.13 176.86L478.56 176.53L478.99 176.19L479.41 175.85L479.83 175.48L480.25 175.11L480.67 174.73L481.09 174.34L481.51 173.94L481.93 173.54L482.35 173.13L482.77 172.71L483.18 172.29L483.60 171.87L484.01 171.45L484.42 171.03L484.83 170.61L485.23 170.20L485.63 169.79L486.03 169.38L486.42 168.98L486.80 168.59L487.19 168.22L487.57 167.85L487.94 167.49L488.31 167.15L488.68 166.82L489.05 166.50L489.42 166.21L489.78 165.93L490.15 165.67L490.51 165.43L490.88 165.22L491.24 165.03L491.61 164.86L491.98 164.71L492.35 164.59L492.73 164.49L493.11 164.41L493.50 164.35L493.89 164.31L494.28 164.29L494.69 164.29L495.10 164.31L495.52 164.35L495.95 164.40L496.39 164.46L496.83 164.55L497.28 164.64L497.73 164.75L498.20 164.87L498.66 165.00L499.13 165.15L499.61 165.30L500.09 165.46L500.57 165.63L501.06 165.81L501.55 165.99L502.05 166.17L502.55 166.36L503.06 166.55L503.58 166.75L504.11 166.94L504.64 167.13L505.18 167.32L505.74 167.51L506.30 167.69L506.88 167.87L507.46 168.03L508.06 168.20L508.67 168.35L509.29 168.50L509.93 168.64L510.56 168.77L511.21 168.89L511.86 169.01L512.51 169.12L513.16 169.23L513.82 169.33L514.48 169.43L515.13 169.52L515.78 169.61L516.43 169.69L517.06 169.77L517.70 169.84L518.32 169.91L518.93 169.98L519.54 170.05L520.14 170.11L520.74 170.17L521.35 170.23L521.95 170.28L522.56 170.33L523.18 170.37L523.81 170.42L524.45 170.45L525.11 170.49L525.79 170.52L526.48 170.54L527.20 170.57L527.95 170.58L528.72 170.60L529.53 170.60L530.37 170.61L531.23 170.61L532.13 170.60L533.05 170.60L534.00 170.58L534.97 170.57L535.97 170.55L536.99 170.52L538.03 170.50L539.09 170.47L540.17 170.43L541.27 170.40L542.39 170.36L543.52 170.32L544.67 170.27L545.82 170.23L547.00 170.18L548.18 170.13L549.37 170.07L550.58 170.02L551.78 169.96L553.00 169.90L554.22 169.84L555.45 169.78L556.67 169.72L557.90 169.66L559.13 169.59L560.36 169.53L561.59 169.46L562.82 169.40L564.04 169.33L565.25 169.26L566.47 169.19L567.67 169.12L568.86 169.05L570.05 168.98L571.23 168.91L572.39 168.84L573.54 168.77L574.68 168.70L575.81 168.62L576.92 168.55L578.01 168.48L579.08 168.40L580.14 168.33L581.18 168.25L582.19 168.18L583.19 168.10L584.16 168.02L585.10 167.95L586.02 167.87L586.92 167.79L587.79 167.71L588.62 167.64L589.43 167.56L590.22 167.48L590.97 167.40L591.70 167.32L592.41 167.24L593.09 167.17L593.76 167.09L594.41 167.02L595.05 166.94L595.68 166.87L596.29 166.80L596.90 166.73L597.50 166.66L598.10 166.59L598.70 166.53L599.29 166.47L599.89 166.41L600.49 166.35L601.10 166.30L601.71 166.25L602.32 166.20L602.93 166.15L603.54 166.09L604.15 166.04L604.76 165.98L605.36 165.92L605.96 165.85L606.55 165.78L607.13 165.71L607.71 165.62L608.27 165.53L608.83 165.43L609.37 165.32L609.91 165.21L610.43 165.08L610.94 164.95L611.43 164.81L611.92 164.66L612.40 164.52L612.86 164.36L613.32 164.21L613.76 164.05L614.20 163.90L614.63 163.74L615.04 163.58L615.45 163.43L615.85 163.28L616.24 163.12L616.63 162.97L617.01 162.81L617.39 162.65L617.76 162.49L618.13 162.32L618.50 162.15L618.86 161.97L619.23 161.78L619.60 161.59L619.96 161.38L620.33 161.17L620.69 160.95L621.06 160.72L621.43 160.48L621.79 160.22L622.15 159.96L622.51 159.69L622.87 159.40L623.23 159.11L623.58 158.80L623.94 158.48L624.29 158.16L624.63 157.82L624.97 157.47L625.30 157.12L625.63 156.76L625.95 156.40L626.27 156.03L626.57 155.65L626.87 155.28L627.15 154.90L627.43 154.51L627.70 154.13L627.96 153.74L628.21 153.36L628.47 152.97L628.71 152.57L628.96 152.18L629.20 151.79L629.45 151.39L629.69 151.00L629.94 150.60L630.19 150.20L630.44 149.80L630.70 149.40L630.96 149.01L631.22 148.61L631.49 148.22L631.75 147.84L632.02 147.46L632.29 147.08L632.56 146.71L632.83 146.35L633.10 146.00L633.37 145.66L633.64 145.32L633.91 145.00L634.19 144.69L634.47 144.39L634.76 144.10L635.05 143.83L635.35 143.56L635.66 143.32L635.98 143.08L636.31 142.86L636.66 142.65L637.01 142.46L637.38 142.29L637.75 142.14L638.13 142.00L638.53 141.88L638.93 141.77L639.34 141.69L639.75 141.63L640.17 141.58L640.60 141.56L641.04 141.56L641.48 141.57L641.92 141.59L642.37 141.63L642.81 141.68L643.27 141.74L643.72 141.80L644.17 141.87L644.62 141.94L645.07 142.01L645.51 142.08L645.96 142.15L646.40 142.21L646.85 142.28L647.29 142.33L647.73 142.38L648.17 142.42L648.62 142.46L649.06 142.48L649.50 142.50L649.95 142.50L650.39 142.49L650.84 142.47L651.29 142.44L651.74 142.40L652.18 142.34L652.63 142.28L653.07 142.21L653.51 142.13L653.95 142.04L654.39 141.95L654.82 141.84L655.25 141.74L655.67 141.62L656.10 141.50L656.52 141.38L656.94 141.25L657.37 141.12L657.80 140.98L658.23 140.83L658.68 140.68L659.13 140.53L659.60 140.37L660.08 140.21L660.57 140.04L661.08 139.87L661.60 139.69L662.14 139.51L662.68 139.33L663.23 139.15L663.80 138.96L664.37 138.77L664.94 138.58L665.53 138.38L666.12 138.19L666.71 137.99L667.30 137.80L667.90 137.60L668.50 137.40" stroke="#2a8c1c"/>
<path class="c" d="M372.00 191.10L373.04 191.05L374.07 191.00L375.11 190.96L376.15 190.91L377.19 190.86L378.23 190.81L379.27 190.77L380.32 190.72L381.36 190.67L382.41 190.62L383.46 190.57L384.51 190.53L385.56 190.48L386.62 190.43L387.68 190.38L388.74 190.33L389.81 190.29L390.88 190.24L391.96 190.19L393.03 190.14L394.12 190.09L395.21 190.04L396.30 189.99L397.40 189.94L398.50 189.89L399.61 189.84L400.72 189.80L401.84 189.75L402.97 189.70L404.10 189.65L405.24 189.60L406.38 189.54L407.54 189.49L408.70 189.44L409.86 189.39L411.04 189.34L412.22 189.29L413.41 189.24L414.61 189.19L415.82 189.14L417.03 189.08L418.24 189.03L419.46 188.98L420.68 188.93L421.90 188.87L423.12 188.82L424.34 188.77L425.56 188.72L426.78 188.66L428.00 188.61L429.21 188.56L430.42 188.50L431.63 188.45L432.83 188.40L434.02 188.34L435.20 188.29L436.37 188.24L437.54 188.18L438.69 188.13L439.84 188.08L440.97 188.03L442.08 187.97L443.19 187.92L444.28 187.87L445.35 187.82L446.41 187.76L447.44 187.71L448.46 187.66L449.46 187.61L450.45 187.55L451.41 187.50L452.34 187.45L453.26 187.40L454.15 187.35L455.02 187.30L455.86 187.25L456.68 187.20L457.47 187.15L458.24 187.10L459.00 187.05L459.73 187.00L460.44 186.95L461.14 186.90L461.82 186.85L462.49 186.79L463.14 186.74L463.78 186.69L464.41 186.64L465.02 186.59L465.63 186.53L466.23 186.48L466.83 186.42L467.42 186.37L468.00 186.31L468.58 186.26L469.16 186.20L469.74 186.14L470.32 186.08L470.90 186.02L471.48 185.95L472.06 185.89L472.63 185.82L473.21 185.76L473.79 185.69L474.36 185.61L474.93 185.54L475.49 185.46L476.05 185.39L476.61 185.31L477.16 185.22L477.70 185.14L478.24 185.05L478.77 184.96L479.30 184.86L479.81 184.76L480.32 184.66L480.81 184.55L481.30 184.44L481.78 184.33L482.25 184.22L482.72 184.10L483.18 183.98L483.64 183.86L484.09 183.74L484.54 183.62L485.00 183.50L485.45 183.37L485.90 183.25L486.35 183.13L486.81 183.01L487.28 182.90L487.74 182.78L488.22 182.67L488.70 182.56L489.19 182.46L489.68 182.36L490.18 182.26L490.69 182.16L491.20 182.07L491.71 181.98L492.23 181.89L492.75 181.81L493.28 181.72L493.80 181.64L494.33 181.57L494.86 181.49L495.39 181.42L495.92 181.36L496.45 181.29L496.98 181.23L497.51 181.16L498.03 181.11L498.56 181.05L499.09 181.00L499.62 180.94L500.15 180.90L500.68 180.85L501.22 180.80L501.76 180.76L502.30 180.72L502.85 180.68L503.41 180.64L503.97 180.60L504.54 180.57L505.12 180.53L505.70 180.50L506.30 180.47L506.90 180.44L507.52 180.41L508.14 180.38L508.78 180.35L509.43 180.33L510.09 180.30L510.76 180.28L511.43 180.25L512.12 180.23L512.81 180.20L513.51 180.18L514.22 180.16L514.94 180.14L515.66 180.11L516.39 180.09L517.12 180.07L517.86 180.05L518.60 180.02L519.34 180.00L520.09 179.97L520.84 179.95L521.60 179.92L522.35 179.90L523.11 179.87L523.86 179.84L524.62 179.81L525.38 179.78L526.13 179.75L526.89 179.72L527.65 179.69L528.41 179.65L529.17 179.62L529.94 179.58L530.71 179.55L531.48 179.51L532.26 179.47L533.05 179.43L533.84 179.39L534.64 179.35L535.45 179.31L536.26 179.26L537.09 179.22L537.92 179.18L538.77 179.13L539.63 179.09L540.50 179.04L541.38 178.99L542.27 178.95L543.18 178.90L544.11 178.85L545.05 178.80L546.01 178.75L546.98 178.70L547.97 178.65L548.98 178.60L550.01 178.55L551.06 178.50L552.12 178.45L553.20 178.40L554.29 178.34L555.39 178.29L556.51 178.24L557.63 178.19L558.77 178.14L559.91 178.09L561.06 178.04L562.22 177.99L563.37 177.94L564.54 177.89L565.70 177.84L566.86 177.79L568.02 177.74L569.18 177.69L570.34 177.65L571.49 177.60L572.64 177.55L573.78 177.51L574.91 177.47L576.03 177.42L577.14 177.38L578.24 177.34L579.32 177.30L580.39 177.27L581.44 177.23L582.48 177.20L583.50 177.16L584.50 177.13L585.48 177.10L586.43 177.07L587.36 177.04L588.27 177.02L589.15 177.00L590.01 176.97L590.84 176.95L591.64 176.94L592.43 176.92L593.19 176.90L593.93 176.89L594.66 176.87L595.36 176.86L596.06 176.85L596.74 176.83L597.40 176.82L598.06 176.81L598.70 176.79L599.34 176.78L599.97 176.76L600.60 176.75L601.22 176.73L601.84 176.71L602.45 176.70L603.07 176.68L603.69 176.65L604.31 176.63L604.94 176.60L605.57 176.57L606.21 176.54L606.85 176.51L607.49 176.48L608.14 176.44L608.79 176.40L609.44 176.35L610.08 176.31L610.73 176.26L611.37 176.21L612.01 176.15L612.65 176.09L613.28 176.03L613.90 175.97L614.51 175.90L615.12 175.83L615.72 175.75L616.31 175.68L616.88 175.59L617.44 175.51L617.99 175.42L618.53 175.33L619.05 175.23L619.55 175.13L620.05 175.02L620.53 174.92L621.00 174.81L621.45 174.69L621.90 174.58L622.33 174.46L622.75 174.34L623.17 174.21L623.57 174.09L623.97 173.96L624.35 173.83L624.73 173.70L625.10 173.56L625.46 173.43L625.82 173.29L626.17 173.16L626.52 173.02L626.88 172.87L627.23 172.73L627.59 172.58L627.96 172.44L628.33 172.29L628.72 172.13L629.11 171.98L629.52 171.82L629.95 171.66L630.39 171.49L630.85 171.33L631.32 171.16L631.81 170.98L632.32 170.80L632.84 170.62L633.37 170.44L633.91 170.25L634.46 170.06L635.02 169.86L635.59 169.66L636.16 169.46L636.75 169.25L637.33 169.03L637.92 168.81L638.52 168.59L639.11 168.36L639.71 168.13L640.30 167.89L640.90 167.64L641.49 167.39L642.08 167.14L642.66 166.88L643.25 166.61L643.82 166.34L644.40 166.06L644.97 165.78L645.53 165.50L646.08 165.21L646.63 164.92L647.18 164.63L647.71 164.33L648.24 164.03L648.76 163.72L649.27 163.41L649.76 163.10L650.25 162.79L650.73 162.48L651.20 162.16L651.66 161.84L652.10 161.53L652.54 161.20L652.96 160.88L653.37 160.56L653.77 160.23L654.15 159.91L654.53 159.58L654.90 159.25L655.26 158.92L655.62 158.59L655.96 158.26L656.30 157.92L656.63 157.59L656.95 157.25L657.27 156.91L657.58 156.57L657.89 156.22L658.19 155.88L658.49 155.54L658.78 155.19L659.07 154.84L659.36 154.49L659.64 154.13L659.92 153.78L660.19 153.42L660.45 153.06L660.72 152.69L660.97 152.33L661.23 151.96L661.48 151.58L661.72 151.21L661.96 150.83L662.19 150.45L662.42 150.06L662.65 149.67L662.87 149.28L663.08 148.89L663.30 148.50L663.50 148.11L663.71 147.72L663.91 147.33L664.11 146.95L664.30 146.57L664.49 146.19L664.68 145.82L664.87 145.45L665.05 145.09L665.23 144.74L665.41 144.40L665.59 144.06L665.76 143.72L665.93 143.39L666.10 143.07L666.26 142.75L666.42 142.43L666.58 142.12L666.73 141.80L666.88 141.49L667.02 141.18L667.16 140.86L667.30 140.55L667.43 140.24L667.56 139.92L667.68 139.61L667.80 139.29L667.92 138.98L668.04 138.66L668.16 138.35L668.27 138.03L668.39 137.72L668.50 137.40" stroke="#2a8c1c"/>
<path class="c" d="M372.00 235.00L372.81 234.98L373.63 234.96L374.44 234.93L375.26 234.91L376.07 234.89L376.89 234.87L377.71 234.84L378.53 234.82L379.35 234.79L380.17 234.77L381.00 234.74L381.82 234.72L382.66 234.69L383.49 234.66L384.33 234.64L385.17 234.61L386.01 234.58L386.86 234.54L387.71 234.51L388.56 234.48L389.42 234.44L390.29 234.40L391.16 234.37L392.03 234.33L392.91 234.29L393.79 234.25L394.67 234.20L395.56 234.16L396.45 234.12L397.34 234.07L398.23 234.03L399.12 233.98L400.01 233.94L400.90 233.89L401.79 233.84L402.68 233.80L403.56 233.75L404.44 233.71L405.32 233.67L406.19 233.62L407.06 233.58L407.93 233.54L408.79 233.50L409.64 233.46L410.48 233.42L411.32 233.38L412.16 233.35L412.98 233.31L413.80 233.28L414.61 233.24L415.41 233.21L416.20 233.18L416.99 233.14L417.76 233.11L418.53 233.08L419.29 233.04L420.04 233.00L420.79 232.97L421.52 232.93L422.25 232.89L422.97 232.84L423.67 232.80L424.37 232.75L425.06 232.69L425.74 232.64L426.41 232.58L427.07 232.52L427.73 232.45L428.38 232.39L429.03 232.32L429.68 232.24L430.33 232.17L430.99 232.10L431.65 232.02L432.33 231.95L433.02 231.87L433.72 231.80L434.43 231.73L435.17 231.66L435.93 231.59L436.71 231.52L437.51 231.46L438.35 231.40L439.21 231.35L440.11 231.29L441.04 231.25L442.00 231.20L442.99 231.17L444.01 231.13L445.05 231.10L446.12 231.07L447.20 231.05L448.30 231.03L449.42 231.01L450.54 230.99L451.68 230.98L452.82 230.97L453.97 230.96L455.11 230.95L456.26 230.94L457.40 230.94L458.53 230.93L459.66 230.93L460.78 230.93L461.88 230.93L462.96 230.93L464.03 230.92L465.07 230.92L466.09 230.92L467.09 230.92L468.05 230.91L468.98 230.91L469.88 230.90L470.75 230.89L471.57 230.88L472.37 230.87L473.13 230.86L473.87 230.84L474.58 230.83L475.27 230.81L475.94 230.78L476.59 230.76L477.22 230.73L477.84 230.70L478.45 230.67L479.05 230.63L479.64 230.59L480.23 230.55L480.82 230.50L481.40 230.45L482.00 230.40L482.59 230.34L483.19 230.28L483.80 230.22L484.40 230.14L485.01 230.06L485.61 229.98L486.21 229.88L486.81 229.78L487.39 229.66L487.98 229.54L488.55 229.41L489.12 229.26L489.67 229.10L490.21 228.93L490.73 228.74L491.24 228.54L491.74 228.33L492.22 228.10L492.68 227.85L493.14 227.60L493.58 227.33L494.01 227.06L494.44 226.77L494.86 226.48L495.27 226.18L495.68 225.88L496.09 225.57L496.50 225.26L496.91 224.94L497.32 224.63L497.74 224.31L498.16 224.00L498.58 223.68L499.00 223.37L499.43 223.06L499.86 222.76L500.29 222.47L500.73 222.18L501.17 221.89L501.61 221.62L502.06 221.36L502.51 221.11L502.96 220.87L503.42 220.65L503.88 220.43L504.34 220.24L504.80 220.06L505.27 219.90L505.74 219.75L506.21 219.62L506.68 219.52L507.15 219.43L507.62 219.36L508.10 219.32L508.57 219.30L509.04 219.30L509.51 219.32L509.97 219.37L510.44 219.44L510.91 219.53L511.38 219.64L511.84 219.75L512.31 219.88L512.78 220.02L513.25 220.17L513.73 220.32L514.21 220.48L514.69 220.64L515.17 220.79L515.66 220.94L516.15 221.09L516.65 221.24L517.15 221.38L517.65 221.51L518.17 221.65L518.68 221.78L519.21 221.90L519.73 222.02L520.27 222.14L520.81 222.25L521.36 222.36L521.92 222.46L522.48 222.56L523.05 222.66L523.63 222.75L524.22 222.83L524.81 222.92L525.42 222.99L526.02 223.07L526.64 223.13L527.26 223.20L527.89 223.26L528.52 223.31L529.16 223.37L529.81 223.41L530.46 223.46L531.11 223.50L531.78 223.54L532.44 223.57L533.11 223.60L533.78 223.62L534.46 223.64L535.15 223.66L535.84 223.68L536.54 223.69L537.24 223.70L537.96 223.70L538.68 223.71L539.42 223.71L540.17 223.71L540.92 223.70L541.69 223.70L542.48 223.69L543.28 223.68L544.09 223.67L544.92 223.66L545.77 223.65L546.63 223.64L547.52 223.62L548.42 223.61L549.34 223.59L550.28 223.58L551.24 223.56L552.22 223.55L553.21 223.53L554.22 223.51L555.25 223.50L556.28 223.48L557.33 223.46L558.39 223.43L559.46 223.41L560.54 223.39L561.63 223.36L562.72 223.33L563.82 223.30L564.92 223.27L566.03 223.23L567.13 223.19L568.24 223.15L569.35 223.11L570.46 223.07L571.56 223.02L572.66 222.97L573.75 222.91L574.84 222.86L575.92 222.80L577.00 222.73L578.06 222.66L579.11 222.59L580.16 222.52L581.19 222.44L582.21 222.36L583.21 222.27L584.20 222.18L585.19 222.09L586.15 222.00L587.11 221.90L588.05 221.81L588.97 221.71L589.88 221.61L590.78 221.51L591.66 221.41L592.53 221.31L593.38 221.21L594.21 221.11L595.03 221.02L595.83 220.92L596.62 220.82L597.39 220.73L598.14 220.63L598.87 220.54L599.59 220.45L600.28 220.36L600.96 220.28L601.63 220.20L602.27 220.12L602.90 220.04L603.51 219.96L604.11 219.89L604.70 219.81L605.27 219.74L605.83 219.67L606.37 219.59L606.91 219.52L607.43 219.44L607.94 219.37L608.44 219.29L608.94 219.21L609.42 219.13L609.90 219.05L610.37 218.96L610.84 218.87L611.30 218.78L611.76 218.68L612.22 218.57L612.68 218.46L613.14 218.34L613.61 218.22L614.08 218.08L614.55 217.94L615.03 217.79L615.52 217.63L616.02 217.46L616.52 217.27L617.03 217.08L617.55 216.88L618.06 216.67L618.58 216.45L619.10 216.22L619.62 215.98L620.14 215.73L620.66 215.47L621.17 215.20L621.69 214.92L622.19 214.64L622.69 214.34L623.19 214.04L623.68 213.73L624.16 213.41L624.64 213.08L625.12 212.74L625.59 212.40L626.06 212.05L626.53 211.70L627.00 211.33L627.46 210.96L627.93 210.59L628.40 210.21L628.87 209.82L629.34 209.43L629.82 209.04L630.30 208.64L630.78 208.23L631.26 207.83L631.75 207.43L632.24 207.02L632.72 206.62L633.21 206.23L633.70 205.84L634.18 205.46L634.66 205.10L635.13 204.74L635.60 204.40L636.07 204.07L636.53 203.76L636.98 203.48L637.42 203.21L637.85 202.96L638.27 202.74L638.69 202.53L639.09 202.35L639.50 202.19L639.90 202.04L640.29 201.92L640.69 201.80L641.08 201.71L641.48 201.62L641.88 201.55L642.28 201.49L642.69 201.44L643.10 201.40L643.51 201.36L643.93 201.33L644.35 201.31L644.78 201.29L645.21 201.27L645.64 201.25L646.07 201.24L646.51 201.22L646.95 201.20L647.39 201.18L647.83 201.15L648.28 201.12L648.73 201.09L649.18 201.05L649.64 201.00L650.10 200.96L650.56 200.90L651.03 200.84L651.51 200.78L651.99 200.71L652.47 200.64L652.97 200.56L653.47 200.47L653.97 200.38L654.48 200.28L654.99 200.18L655.51 200.07L656.04 199.95L656.57 199.84L657.10 199.71L657.63 199.58L658.17 199.45L658.71 199.31L659.25 199.16L659.79 199.02L660.33 198.86L660.87 198.71L661.41 198.54L661.96 198.38L662.50 198.21L663.05 198.04L663.59 197.86L664.13 197.68L664.68 197.50L665.23 197.32L665.77 197.14L666.32 196.95L666.86 196.76L667.41 196.58L667.95 196.39L668.50 196.20" stroke="#000000"/>
<path class="c" d="M372.00 239.50L372.73 239.49L373.47 239.49L374.20 239.48L374.93 239.48L375.66 239.47L376.40 239.47L377.13 239.46L377.86 239.46L378.60 239.45L379.33 239.45L380.06 239.45L380.80 239.45L381.53 239.44L382.27 239.44L383.00 239.44L383.74 239.44L384.47 239.45L385.21 239.45L385.95 239.45L386.68 239.46L387.42 239.46L388.16 239.47L388.90 239.48L389.64 239.49L390.38 239.50L391.12 239.51L391.86 239.53L392.60 239.54L393.34 239.56L394.08 239.57L394.81 239.59L395.55 239.61L396.29 239.62L397.02 239.64L397.75 239.66L398.48 239.68L399.20 239.69L399.93 239.71L400.64 239.73L401.36 239.74L402.07 239.75L402.77 239.77L403.47 239.78L404.17 239.79L404.86 239.79L405.54 239.80L406.22 239.80L406.89 239.80L407.55 239.80L408.21 239.80L408.86 239.79L409.50 239.78L410.14 239.77L410.77 239.76L411.40 239.74L412.02 239.72L412.64 239.70L413.26 239.68L413.88 239.66L414.49 239.63L415.10 239.60L415.71 239.58L416.33 239.55L416.94 239.52L417.56 239.49L418.17 239.46L418.79 239.42L419.42 239.39L420.04 239.36L420.68 239.32L421.31 239.29L421.96 239.25L422.60 239.22L423.26 239.19L423.92 239.15L424.59 239.12L425.27 239.08L425.95 239.04L426.64 239.01L427.34 238.97L428.05 238.93L428.77 238.90L429.49 238.86L430.23 238.82L430.98 238.78L431.73 238.74L432.50 238.70L433.28 238.66L434.07 238.62L434.87 238.57L435.69 238.53L436.51 238.49L437.35 238.44L438.21 238.40L439.07 238.35L439.95 238.30L440.85 238.25L441.75 238.20L442.67 238.15L443.60 238.10L444.54 238.05L445.49 238.00L446.45 237.95L447.41 237.90L448.38 237.85L449.36 237.79L450.34 237.74L451.32 237.69L452.30 237.64L453.29 237.59L454.27 237.54L455.26 237.49L456.24 237.44L457.21 237.39L458.19 237.35L459.16 237.30L460.12 237.26L461.07 237.22L462.02 237.18L462.95 237.14L463.88 237.10L464.79 237.07L465.69 237.03L466.58 237.00L467.45 236.97L468.31 236.95L469.15 236.92L469.97 236.90L470.78 236.88L471.56 236.87L472.33 236.85L473.08 236.84L473.82 236.83L474.54 236.82L475.25 236.81L475.94 236.80L476.62 236.80L477.29 236.79L477.94 236.78L478.59 236.77L479.23 236.77L479.85 236.76L480.47 236.75L481.08 236.74L481.69 236.72L482.28 236.71L482.88 236.69L483.47 236.67L484.05 236.65L484.63 236.62L485.21 236.59L485.79 236.56L486.36 236.52L486.93 236.48L487.50 236.43L488.07 236.39L488.64 236.33L489.20 236.28L489.76 236.22L490.32 236.16L490.88 236.10L491.43 236.03L491.98 235.96L492.53 235.88L493.08 235.81L493.62 235.72L494.16 235.64L494.70 235.55L495.23 235.46L495.76 235.37L496.29 235.28L496.81 235.18L497.33 235.08L497.85 234.98L498.37 234.87L498.88 234.77L499.39 234.66L499.90 234.55L500.41 234.45L500.91 234.34L501.42 234.24L501.92 234.13L502.42 234.03L502.92 233.93L503.42 233.83L503.92 233.73L504.41 233.64L504.91 233.54L505.41 233.45L505.90 233.37L506.41 233.29L506.91 233.21L507.42 233.13L507.93 233.06L508.45 232.99L508.98 232.92L509.52 232.86L510.06 232.79L510.62 232.74L511.19 232.68L511.77 232.63L512.36 232.58L512.97 232.54L513.60 232.49L514.24 232.45L514.90 232.42L515.59 232.38L516.28 232.35L517.00 232.32L517.74 232.30L518.49 232.27L519.26 232.25L520.04 232.23L520.84 232.21L521.65 232.20L522.47 232.18L523.31 232.17L524.16 232.16L525.01 232.14L525.88 232.13L526.76 232.12L527.64 232.11L528.54 232.10L529.43 232.09L530.34 232.08L531.25 232.07L532.16 232.06L533.08 232.04L534.00 232.03L534.92 232.01L535.85 232.00L536.77 231.98L537.70 231.96L538.62 231.94L539.54 231.91L540.46 231.89L541.37 231.86L542.29 231.83L543.20 231.79L544.10 231.76L545.01 231.72L545.92 231.68L546.82 231.64L547.72 231.60L548.63 231.56L549.53 231.52L550.43 231.47L551.34 231.43L552.24 231.38L553.15 231.33L554.06 231.29L554.97 231.24L555.88 231.19L556.79 231.14L557.71 231.10L558.63 231.05L559.55 231.00L560.48 230.96L561.41 230.91L562.35 230.87L563.29 230.83L564.24 230.78L565.19 230.74L566.15 230.70L567.11 230.67L568.08 230.63L569.06 230.60L570.04 230.57L571.03 230.54L572.02 230.51L573.02 230.48L574.02 230.46L575.03 230.43L576.04 230.41L577.05 230.39L578.06 230.37L579.07 230.35L580.08 230.33L581.08 230.32L582.09 230.30L583.09 230.28L584.09 230.27L585.08 230.25L586.07 230.23L587.05 230.22L588.02 230.20L588.99 230.18L589.94 230.17L590.89 230.15L591.82 230.13L592.75 230.11L593.66 230.09L594.56 230.07L595.45 230.05L596.32 230.02L597.18 230.00L598.02 229.97L598.84 229.94L599.65 229.91L600.44 229.88L601.21 229.85L601.96 229.81L602.70 229.77L603.42 229.73L604.13 229.69L604.83 229.64L605.51 229.59L606.18 229.54L606.84 229.48L607.49 229.42L608.14 229.36L608.77 229.29L609.40 229.23L610.03 229.15L610.65 229.07L611.26 228.99L611.88 228.91L612.49 228.82L613.10 228.72L613.71 228.62L614.32 228.52L614.94 228.41L615.56 228.30L616.18 228.18L616.81 228.05L617.44 227.93L618.07 227.79L618.70 227.65L619.34 227.51L619.98 227.36L620.63 227.21L621.28 227.05L621.93 226.89L622.58 226.73L623.24 226.55L623.90 226.38L624.56 226.20L625.23 226.02L625.90 225.83L626.57 225.64L627.24 225.44L627.92 225.24L628.60 225.03L629.28 224.82L629.96 224.61L630.65 224.39L631.34 224.17L632.03 223.95L632.72 223.72L633.41 223.50L634.10 223.27L634.78 223.03L635.47 222.80L636.15 222.57L636.82 222.33L637.49 222.10L638.16 221.87L638.81 221.63L639.46 221.40L640.10 221.17L640.74 220.95L641.36 220.72L641.97 220.50L642.57 220.29L643.16 220.07L643.73 219.86L644.29 219.66L644.84 219.46L645.37 219.27L645.88 219.08L646.39 218.89L646.88 218.71L647.35 218.53L647.82 218.35L648.28 218.17L648.73 217.98L649.17 217.80L649.61 217.61L650.04 217.41L650.47 217.21L650.90 217.00L651.32 216.78L651.75 216.55L652.17 216.31L652.60 216.06L653.03 215.80L653.46 215.52L653.90 215.23L654.33 214.93L654.77 214.61L655.20 214.29L655.64 213.96L656.07 213.62L656.49 213.28L656.92 212.92L657.33 212.56L657.75 212.20L658.15 211.83L658.55 211.46L658.94 211.09L659.32 210.72L659.69 210.34L660.05 209.96L660.39 209.59L660.73 209.22L661.05 208.84L661.37 208.47L661.67 208.10L661.96 207.73L662.25 207.35L662.53 206.98L662.80 206.61L663.07 206.23L663.33 205.86L663.59 205.48L663.85 205.11L664.10 204.73L664.35 204.35L664.60 203.96L664.84 203.58L665.09 203.19L665.34 202.80L665.58 202.41L665.82 202.03L666.05 201.64L666.28 201.26L666.50 200.89L666.71 200.52L666.91 200.16L667.10 199.81L667.28 199.47L667.45 199.14L667.60 198.82L667.74 198.52L667.86 198.22L667.97 197.94L668.07 197.68L668.16 197.42L668.23 197.16L668.31 196.92L668.37 196.68L668.44 196.44L668.50 196.20" stroke="#000000"/>
</g>
<rect x="29.40" y="24.30" width="296.50" height="218.60" fill="none" stroke="#262626" stroke-width="1.1"/>
<line x1="46.60" y1="242.90" x2="46.60" y2="246.90" stroke="#262626" stroke-width="1.1"/>
<line x1="81.51" y1="242.90" x2="81.51" y2="245.10" stroke="#262626" stroke-width="1.1"/>
<line x1="116.42" y1="242.90" x2="116.42" y2="246.90" stroke="#262626" stroke-width="1.1"/>
<line x1="151.34" y1="242.90" x2="151.34" y2="245.10" stroke="#262626" stroke-width="1.1"/>
<line x1="186.25" y1="242.90" x2="186.25" y2="246.90" stroke="#262626" stroke-width="1.1"/>
<line x1="221.16" y1="242.90" x2="221.16" y2="245.10" stroke="#262626" stroke-width="1.1"/>
<line x1="256.07" y1="242.90" x2="256.07" y2="246.90" stroke="#262626" stroke-width="1.1"/>
<line x1="290.99" y1="242.90" x2="290.99" y2="245.10" stroke="#262626" stroke-width="1.1"/>
<line x1="325.90" y1="242.90" x2="325.90" y2="246.90" stroke="#262626" stroke-width="1.1"/>
<rect x="371.70" y="24.30" width="296.90" height="218.60" fill="none" stroke="#262626" stroke-width="1.1"/>
<line x1="389.30" y1="242.90" x2="389.30" y2="246.90" stroke="#262626" stroke-width="1.1"/>
<line x1="424.21" y1="242.90" x2="424.21" y2="245.10" stroke="#262626" stroke-width="1.1"/>
<line x1="459.12" y1="242.90" x2="459.12" y2="246.90" stroke="#262626" stroke-width="1.1"/>
<line x1="494.04" y1="242.90" x2="494.04" y2="245.10" stroke="#262626" stroke-width="1.1"/>
<line x1="528.95" y1="242.90" x2="528.95" y2="246.90" stroke="#262626" stroke-width="1.1"/>
<line x1="563.86" y1="242.90" x2="563.86" y2="245.10" stroke="#262626" stroke-width="1.1"/>
<line x1="598.78" y1="242.90" x2="598.78" y2="246.90" stroke="#262626" stroke-width="1.1"/>
<line x1="633.69" y1="242.90" x2="633.69" y2="245.10" stroke="#262626" stroke-width="1.1"/>
<line x1="668.60" y1="242.90" x2="668.60" y2="246.90" stroke="#262626" stroke-width="1.1"/>
<text x="30.57" y="264.60" class="t" style="font-size:18.60px;fill:#000">-0.4</text>
<text x="100.40" y="264.60" class="t" style="font-size:18.60px;fill:#000">-0.8</text>
<text x="170.22" y="264.60" class="t" style="font-size:18.60px;fill:#000">-</text>
<path class="g" d="M763 0L583 0L583 1147Q518 1085 412 1023Q306 961 222 928L222 1102Q373 1173 486 1276Q599 1379 646 1466L763 1466Z" transform="translate(176.42 264.60) scale(0.00908 -0.00908)" style="fill:#000"/>
<text x="186.76" y="264.60" class="t" style="font-size:18.60px;fill:#000">.2</text>
<text x="240.05" y="264.60" class="t" style="font-size:18.60px;fill:#000">-</text>
<path class="g" d="M763 0L583 0L583 1147Q518 1085 412 1023Q306 961 222 928L222 1102Q373 1173 486 1276Q599 1379 646 1466L763 1466Z" transform="translate(246.24 264.60) scale(0.00908 -0.00908)" style="fill:#000"/>
<text x="256.59" y="264.60" class="t" style="font-size:18.60px;fill:#000">.6</text>
<text x="309.87" y="264.60" class="t" style="font-size:18.60px;fill:#000">-2.0</text>
<text x="373.27" y="264.60" class="t" style="font-size:18.60px;fill:#000">-0.4</text>
<text x="443.10" y="264.60" class="t" style="font-size:18.60px;fill:#000">-0.8</text>
<text x="512.92" y="264.60" class="t" style="font-size:18.60px;fill:#000">-</text>
<path class="g" d="M763 0L583 0L583 1147Q518 1085 412 1023Q306 961 222 928L222 1102Q373 1173 486 1276Q599 1379 646 1466L763 1466Z" transform="translate(519.12 264.60) scale(0.00908 -0.00908)" style="fill:#000"/>
<text x="529.46" y="264.60" class="t" style="font-size:18.60px;fill:#000">.2</text>
<text x="582.75" y="264.60" class="t" style="font-size:18.60px;fill:#000">-</text>
<path class="g" d="M763 0L583 0L583 1147Q518 1085 412 1023Q306 961 222 928L222 1102Q373 1173 486 1276Q599 1379 646 1466L763 1466Z" transform="translate(588.94 264.60) scale(0.00908 -0.00908)" style="fill:#000"/>
<text x="599.29" y="264.60" class="t" style="font-size:18.60px;fill:#000">.6</text>
<text x="652.57" y="264.60" class="t" style="font-size:18.60px;fill:#000">-2.0</text>
<text x="30.20" y="41.80" class="t" style="font-size:18.60px;fill:#000">Under&#160;N</text>
<text x="99.46" y="46.40" class="t" style="font-size:12.40px;fill:#000">2</text>
<text x="372.80" y="41.60" class="t" style="font-size:18.60px;fill:#000">Under&#160;CO</text>
<text x="456.53" y="46.20" class="t" style="font-size:12.40px;fill:#000">2</text>
<text x="463.42" y="41.60" class="t" style="font-size:18.60px;fill:#000">/H</text>
<text x="482.02" y="46.20" class="t" style="font-size:12.40px;fill:#000">2</text>
<text x="488.92" y="41.60" class="t" style="font-size:18.60px;fill:#000">O</text>
<text x="31.20" y="68.90" class="t" style="font-size:18.60px;fill:#ff1e16">F</text>
<text x="42.56" y="73.50" class="t" style="font-size:12.40px;fill:#ff1e16">20</text>
<text x="56.35" y="68.90" class="t" style="font-size:18.60px;fill:#ff1e16">Ch</text>
<text x="31.40" y="116.00" class="t" style="font-size:18.60px;fill:#1010ff">F</text>
<path class="g" d="M763 0L583 0L583 1147Q518 1085 412 1023Q306 961 222 928L222 1102Q373 1173 486 1276Q599 1379 646 1466L763 1466Z" transform="translate(42.76 120.60) scale(0.00605 -0.00605)" style="fill:#1010ff"/>
<text x="49.66" y="120.60" class="t" style="font-size:12.40px;fill:#1010ff">2</text>
<text x="56.55" y="116.00" class="t" style="font-size:18.60px;fill:#1010ff">Ch</text>
<text x="31.20" y="172.40" class="t" style="font-size:18.60px;fill:#2a8c1c">F</text>
<text x="42.56" y="177.00" class="t" style="font-size:12.40px;fill:#2a8c1c">4</text>
<text x="49.46" y="172.40" class="t" style="font-size:18.60px;fill:#2a8c1c">Ch</text>
<text x="31.20" y="220.00" class="t" style="font-size:18.60px;fill:#000000">F</text>
<text x="42.56" y="224.60" class="t" style="font-size:12.40px;fill:#000000">0</text>
<text x="49.46" y="220.00" class="t" style="font-size:18.60px;fill:#000000">Ch</text>
<text x="375.10" y="65.40" class="t" style="font-size:18.60px;fill:#ff1e16">F</text>
<text x="386.46" y="70.00" class="t" style="font-size:12.40px;fill:#ff1e16">20</text>
<text x="400.25" y="65.40" class="t" style="font-size:18.60px;fill:#ff1e16">Ch</text>
<text x="375.10" y="117.40" class="t" style="font-size:18.60px;fill:#1010ff">F</text>
<path class="g" d="M763 0L583 0L583 1147Q518 1085 412 1023Q306 961 222 928L222 1102Q373 1173 486 1276Q599 1379 646 1466L763 1466Z" transform="translate(386.46 122.00) scale(0.00605 -0.00605)" style="fill:#1010ff"/>
<text x="393.36" y="122.00" class="t" style="font-size:12.40px;fill:#1010ff">2</text>
<text x="400.25" y="117.40" class="t" style="font-size:18.60px;fill:#1010ff">Ch</text>
<text x="375.10" y="177.30" class="t" style="font-size:18.60px;fill:#2a8c1c">F</text>
<text x="386.46" y="181.90" class="t" style="font-size:12.40px;fill:#2a8c1c">4</text>
<text x="393.36" y="177.30" class="t" style="font-size:18.60px;fill:#2a8c1c">Ch</text>
<text x="375.10" y="225.20" class="t" style="font-size:18.60px;fill:#000000">F</text>
<text x="386.46" y="229.80" class="t" style="font-size:12.40px;fill:#000000">0</text>
<text x="393.36" y="225.20" class="t" style="font-size:18.60px;fill:#000000">Ch</text>
<text x="91.20" y="294.20" class="t" style="font-size:18.60px;fill:#000">Potential&#160;vs.&#160;SCE&#160;(V)</text>
<text x="433.60" y="294.20" class="t" style="font-size:18.60px;fill:#000">Potential&#160;vs.&#160;SCE&#160;(V)</text>
</svg>
</body></html>
